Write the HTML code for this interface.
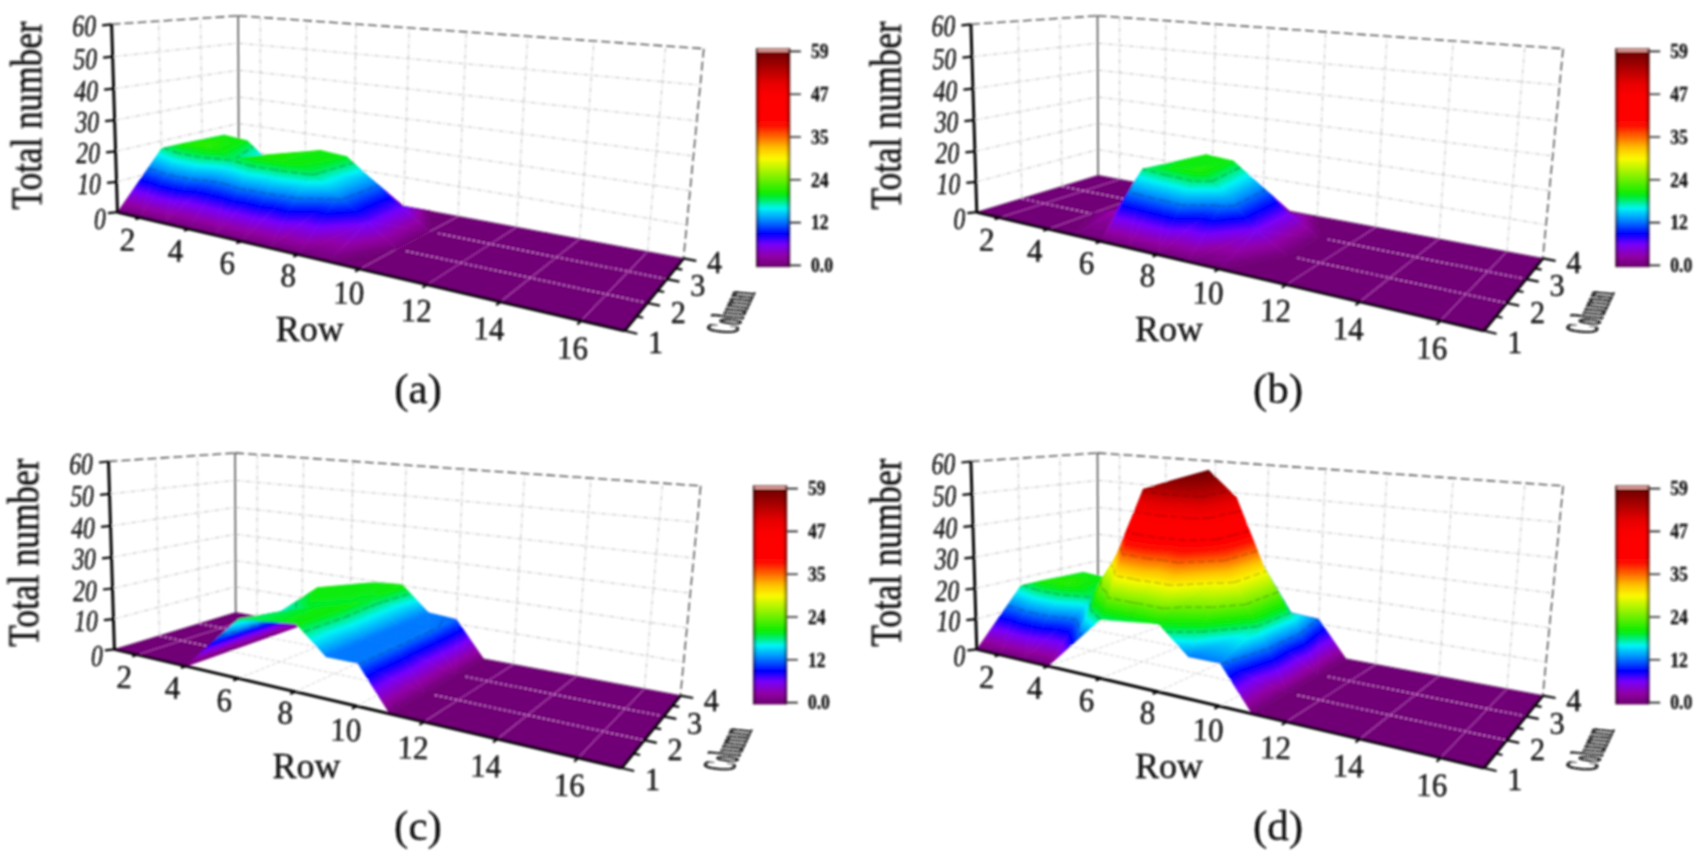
<!DOCTYPE html><html><head><meta charset="utf-8"><title>Figure</title><style>html,body{margin:0;padding:0;background:#fff}svg{display:block}.k{fill:none;stroke:#10200c;stroke-opacity:.32;stroke-width:1.2;stroke-dasharray:7 3}</style></head><body>
<svg width="1704" height="862" viewBox="0 0 1704 862">
<defs><filter id="bl" x="0" y="0" width="1704" height="862" filterUnits="userSpaceOnUse"><feGaussianBlur stdDeviation="0.85"/></filter></defs>
<rect width="1704" height="862" fill="#fff"/>
<g filter="url(#bl)">
<g transform="translate(0,0)">
<path d="M116.5 181.9L238.7 149.6M238.7 149.6L686.8 224.8M115.6 151.3L238.6 123.5M238.6 123.5L690.1 190.7M114.6 120.2L238.5 97M238.5 97L693.4 156M113.6 88.7L238.4 70.2M238.4 70.2L696.8 120.8M112.6 56.7L238.3 43.2M238.3 43.2L700.3 85.1M260.1 179.4L260.3 17.3M304.9 187.8L306.7 20.6M352.5 196.7L356.2 24.1M403.5 206.2L409.3 27.9M458 216.4L466.3 31.9M516.5 227.3L527.7 36.3M579.5 239L594 40.9M647.5 251.7L665.7 46M162.5 198.6L158.7 21.1M202.7 186.4L200.6 18.3" fill="none" stroke="#bdbdbd" stroke-width="1" stroke-dasharray="5 2 1.5 2"/>
<path d="M140.5 217.6L260.1 179.4M189.1 228.9L304.9 187.8M241.5 241.2L352.5 196.7M298.3 254.5L403.5 206.2M359.9 268.9L458 216.4M427.1 284.6L516.5 227.3M500.5 301.8L579.5 239M581.2 320.6L647.5 251.7M162.5 198.6L647.2 303M202.7 186.4L666.7 279.1" fill="none" stroke="#d0d0d0" stroke-width="1" stroke-dasharray="4 2"/>
<path d="M238.8 175.4L238.2 15.8" fill="none" stroke="#4a4a4a" stroke-width="1.5"/>
<path d="M117.5 212.2L238.8 175.4M238.8 175.4L683.5 258.4" fill="none" stroke="#999" stroke-width="1"/>
<path d="M111.6 24.3L238.2 15.8M238.2 15.8L703.8 48.7M703.8 48.7L683.5 258.4" fill="none" stroke="#3a3a3a" stroke-width="1.3" stroke-dasharray="9 4"/>
<path d="M429.4 231.7L458 216.4L430.3 211.2zM429.4 231.7L486.7 221.7L458 216.4zM459.4 237.7L516.5 227.3L486.7 221.7zM429.4 231.7L459.4 237.7L486.7 221.7zM490.6 243.9L547.4 233.1L516.5 227.3zM459.4 237.7L490.6 243.9L516.5 227.3zM523 250.4L579.5 239L547.4 233.1zM396.9 249.1L459.4 237.7L429.4 231.7zM490.6 243.9L523 250.4L547.4 233.1zM556.7 257.1L612.8 245.3L579.5 239zM428.3 255.8L490.6 243.9L459.4 237.7zM523 250.4L556.7 257.1L579.5 239zM396.9 249.1L428.3 255.8L459.4 237.7zM591.8 264.2L647.5 251.7L612.8 245.3zM461 262.9L523 250.4L490.6 243.9zM556.7 257.1L591.8 264.2L612.8 245.3zM428.3 255.8L461 262.9L490.6 243.9zM628.5 271.5L683.5 258.4L647.5 251.7zM495.1 270.2L556.7 257.1L523 250.4zM591.8 264.2L628.5 271.5L647.5 251.7zM359.9 268.9L428.3 255.8L396.9 249.1zM461 262.9L495.1 270.2L523 250.4zM328.5 261.5L359.9 268.9L396.9 249.1zM530.6 277.8L591.8 264.2L556.7 257.1zM628.5 271.5L666.7 279.1L683.5 258.4zM392.8 276.6L461 262.9L428.3 255.8zM495.1 270.2L530.6 277.8L556.7 257.1zM359.9 268.9L392.8 276.6L428.3 255.8zM567.8 285.8L628.5 271.5L591.8 264.2zM427.1 284.6L495.1 270.2L461 262.9zM530.6 277.8L567.8 285.8L591.8 264.2zM392.8 276.6L427.1 284.6L461 262.9zM606.6 294.2L666.7 279.1L628.5 271.5zM462.9 293L530.6 277.8L495.1 270.2zM567.8 285.8L606.6 294.2L628.5 271.5zM427.1 284.6L462.9 293L495.1 270.2zM500.5 301.8L567.8 285.8L530.6 277.8zM606.6 294.2L647.2 303L666.7 279.1zM462.9 293L500.5 301.8L530.6 277.8zM539.9 311L606.6 294.2L567.8 285.8zM500.5 301.8L539.9 311L567.8 285.8zM581.2 320.6L647.2 303L606.6 294.2zM539.9 311L581.2 320.6L606.6 294.2zM581.2 320.6L624.6 330.8L647.2 303z" fill="#710077" stroke="#710077" stroke-width="0.7"/>
<path d="M359.9 268.9L396.9 249.1M396.9 249.1L429.4 231.7M429.4 231.7L458 216.4M427.1 284.6L461 262.9M461 262.9L490.6 243.9M490.6 243.9L516.5 227.3M500.5 301.8L530.6 277.8M530.6 277.8L556.7 257.1M556.7 257.1L579.5 239M581.2 320.6L606.6 294.2M606.6 294.2L628.5 271.5M628.5 271.5L647.5 251.7" fill="none" stroke="#b44db4" stroke-opacity="0.9" stroke-width="1.1"/>
<path d="M406.2 251.1L647.2 303M438.2 233.5L666.7 279.1" fill="none" stroke="#e48de4" stroke-width="1.25" stroke-dasharray="2.6 2.4"/>
<defs><linearGradient id="g1" gradientUnits="userSpaceOnUse" x1="260.1" y1="179.4" x2="262.8" y2="165.1"><stop offset="0" stop-color="#710077"/><stop offset="0.208" stop-color="#9200a5"/><stop offset="0.483" stop-color="#7800fa"/><stop offset="0.725" stop-color="#0000ff"/><stop offset="1" stop-color="#0078ff"/></linearGradient><linearGradient id="g2" gradientUnits="userSpaceOnUse" x1="282.1" y1="183.5" x2="288.7" y2="148.7"><stop offset="0" stop-color="#710077"/><stop offset="0.13" stop-color="#9200a5"/><stop offset="0.301" stop-color="#7800fa"/><stop offset="0.451" stop-color="#0000ff"/><stop offset="0.658" stop-color="#0091ff"/><stop offset="0.819" stop-color="#00f5f5"/><stop offset="0.907" stop-color="#00ee82"/><stop offset="1" stop-color="#07ec19"/></linearGradient><linearGradient id="g3" gradientUnits="userSpaceOnUse" x1="260.1" y1="179.4" x2="259.1" y2="134.5"><stop offset="0" stop-color="#710077"/><stop offset="0.125" stop-color="#9200a5"/><stop offset="0.29" stop-color="#7800fa"/><stop offset="0.435" stop-color="#0000ff"/><stop offset="0.635" stop-color="#0091ff"/><stop offset="0.79" stop-color="#00f5f5"/><stop offset="0.875" stop-color="#00ee82"/><stop offset="0.98" stop-color="#08ec08"/><stop offset="1" stop-color="#12ec07"/></linearGradient><linearGradient id="g4" gradientUnits="userSpaceOnUse" x1="304.9" y1="187.8" x2="308.2" y2="169.9"><stop offset="0" stop-color="#710077"/><stop offset="0.192" stop-color="#9200a5"/><stop offset="0.446" stop-color="#7800fa"/><stop offset="0.669" stop-color="#0000ff"/><stop offset="0.977" stop-color="#0091ff"/><stop offset="1" stop-color="#009bfe"/></linearGradient><linearGradient id="g5" gradientUnits="userSpaceOnUse" x1="260.1" y1="179.4" x2="267" y2="143.4"><stop offset="0" stop-color="#710077"/><stop offset="0.125" stop-color="#9200a5"/><stop offset="0.29" stop-color="#7800fa"/><stop offset="0.435" stop-color="#0000ff"/><stop offset="0.635" stop-color="#0091ff"/><stop offset="0.79" stop-color="#00f5f5"/><stop offset="0.875" stop-color="#00ee82"/><stop offset="0.98" stop-color="#08ec08"/><stop offset="1" stop-color="#12ec07"/></linearGradient><linearGradient id="g6" gradientUnits="userSpaceOnUse" x1="328.3" y1="192.2" x2="330.1" y2="182.4"><stop offset="0" stop-color="#710077"/><stop offset="0.25" stop-color="#9200a5"/><stop offset="0.58" stop-color="#7800fa"/><stop offset="0.87" stop-color="#0000ff"/><stop offset="1" stop-color="#002fff"/></linearGradient><linearGradient id="g7" gradientUnits="userSpaceOnUse" x1="282.1" y1="183.5" x2="291.1" y2="170.1"><stop offset="0" stop-color="#710077"/><stop offset="0.13" stop-color="#9200a5"/><stop offset="0.301" stop-color="#7800fa"/><stop offset="0.451" stop-color="#0000ff"/><stop offset="0.658" stop-color="#0091ff"/><stop offset="0.819" stop-color="#00f5f5"/><stop offset="0.907" stop-color="#00ee82"/><stop offset="1" stop-color="#07ec19"/></linearGradient><linearGradient id="g8" gradientUnits="userSpaceOnUse" x1="202.3" y1="153.8" x2="200.2" y2="138.4"><stop offset="0" stop-color="#0078ff"/><stop offset="0.087" stop-color="#0091ff"/><stop offset="0.475" stop-color="#00f5f5"/><stop offset="0.688" stop-color="#00ee82"/><stop offset="0.95" stop-color="#08ec08"/><stop offset="1" stop-color="#12ec07"/></linearGradient><linearGradient id="g9" gradientUnits="userSpaceOnUse" x1="352.5" y1="196.7" x2="354.4" y2="186.9"><stop offset="0" stop-color="#710077"/><stop offset="0.25" stop-color="#9200a5"/><stop offset="0.58" stop-color="#7800fa"/><stop offset="0.87" stop-color="#0000ff"/><stop offset="1" stop-color="#002fff"/></linearGradient><linearGradient id="g10" gradientUnits="userSpaceOnUse" x1="304.9" y1="187.8" x2="308.5" y2="179.5"><stop offset="0" stop-color="#710077"/><stop offset="0.192" stop-color="#9200a5"/><stop offset="0.446" stop-color="#7800fa"/><stop offset="0.669" stop-color="#0000ff"/><stop offset="0.977" stop-color="#0091ff"/><stop offset="1" stop-color="#009bfe"/></linearGradient><linearGradient id="g11" gradientUnits="userSpaceOnUse" x1="247.1" y1="140.9" x2="221.9" y2="162.6"><stop offset="0" stop-color="#07ec19"/><stop offset="0.176" stop-color="#08ec08"/><stop offset="1" stop-color="#2ced05"/></linearGradient><linearGradient id="g12" gradientUnits="userSpaceOnUse" x1="161.4" y1="148.8" x2="161.2" y2="148"><stop offset="0" stop-color="#00ef90"/><stop offset="0.062" stop-color="#00ee82"/><stop offset="0.719" stop-color="#08ec08"/><stop offset="1" stop-color="#1fed06"/></linearGradient><linearGradient id="g13" gradientUnits="userSpaceOnUse" x1="377.6" y1="201.3" x2="384.6" y2="164"><stop offset="0" stop-color="#710077"/><stop offset="0.13" stop-color="#9200a5"/><stop offset="0.301" stop-color="#7800fa"/><stop offset="0.451" stop-color="#0000ff"/><stop offset="0.658" stop-color="#0091ff"/><stop offset="0.819" stop-color="#00f5f5"/><stop offset="0.907" stop-color="#00ee82"/><stop offset="1" stop-color="#07ec19"/></linearGradient><linearGradient id="g14" gradientUnits="userSpaceOnUse" x1="352.5" y1="196.7" x2="350" y2="149"><stop offset="0" stop-color="#710077"/><stop offset="0.125" stop-color="#9200a5"/><stop offset="0.29" stop-color="#7800fa"/><stop offset="0.435" stop-color="#0000ff"/><stop offset="0.635" stop-color="#0091ff"/><stop offset="0.79" stop-color="#00f5f5"/><stop offset="0.875" stop-color="#00ee82"/><stop offset="0.98" stop-color="#08ec08"/><stop offset="1" stop-color="#12ec07"/></linearGradient><linearGradient id="g15" gradientUnits="userSpaceOnUse" x1="224.2" y1="135.3" x2="225" y2="144.3"><stop offset="0" stop-color="#12ec07"/><stop offset="1" stop-color="#2ced05"/></linearGradient><linearGradient id="g16" gradientUnits="userSpaceOnUse" x1="270.7" y1="162.9" x2="252.9" y2="136.9"><stop offset="0" stop-color="#009bfe"/><stop offset="0.444" stop-color="#00f5f5"/><stop offset="0.714" stop-color="#00ee82"/><stop offset="1" stop-color="#07ec19"/></linearGradient><linearGradient id="g17" gradientUnits="userSpaceOnUse" x1="403.5" y1="206.2" x2="407" y2="187.3"><stop offset="0" stop-color="#710077"/><stop offset="0.194" stop-color="#9200a5"/><stop offset="0.45" stop-color="#7800fa"/><stop offset="0.674" stop-color="#0000ff"/><stop offset="0.984" stop-color="#0091ff"/><stop offset="1" stop-color="#0097fe"/></linearGradient><linearGradient id="g18" gradientUnits="userSpaceOnUse" x1="352.5" y1="196.7" x2="359.8" y2="157.9"><stop offset="0" stop-color="#710077"/><stop offset="0.125" stop-color="#9200a5"/><stop offset="0.29" stop-color="#7800fa"/><stop offset="0.435" stop-color="#0000ff"/><stop offset="0.635" stop-color="#0091ff"/><stop offset="0.79" stop-color="#00f5f5"/><stop offset="0.875" stop-color="#00ee82"/><stop offset="0.98" stop-color="#08ec08"/><stop offset="1" stop-color="#12ec07"/></linearGradient><linearGradient id="g19" gradientUnits="userSpaceOnUse" x1="231.9" y1="159.2" x2="222" y2="138.8"><stop offset="0" stop-color="#02ee65"/><stop offset="0.533" stop-color="#08ec08"/><stop offset="1" stop-color="#2ced05"/></linearGradient><linearGradient id="g20" gradientUnits="userSpaceOnUse" x1="295" y1="175.9" x2="294.9" y2="176.1"><stop offset="0" stop-color="#002fff"/><stop offset="0.257" stop-color="#0091ff"/><stop offset="0.552" stop-color="#00f5f5"/><stop offset="0.714" stop-color="#00ee82"/><stop offset="0.914" stop-color="#08ec08"/><stop offset="1" stop-color="#1fed06"/></linearGradient><linearGradient id="g21" gradientUnits="userSpaceOnUse" x1="430.3" y1="211.2" x2="430.2" y2="211.6"><stop offset="0" stop-color="#710077"/><stop offset="0.391" stop-color="#9200a5"/><stop offset="0.906" stop-color="#7800fa"/><stop offset="1" stop-color="#5f00fb"/></linearGradient><linearGradient id="g22" gradientUnits="userSpaceOnUse" x1="140.5" y1="217.6" x2="171.2" y2="138.4"><stop offset="0" stop-color="#710077"/><stop offset="0.122" stop-color="#9200a5"/><stop offset="0.283" stop-color="#7800fa"/><stop offset="0.424" stop-color="#0000ff"/><stop offset="0.62" stop-color="#0091ff"/><stop offset="0.771" stop-color="#00f5f5"/><stop offset="0.854" stop-color="#00ee82"/><stop offset="0.956" stop-color="#08ec08"/><stop offset="1" stop-color="#1fed06"/></linearGradient><linearGradient id="g23" gradientUnits="userSpaceOnUse" x1="377.6" y1="201.3" x2="389.2" y2="180.9"><stop offset="0" stop-color="#710077"/><stop offset="0.13" stop-color="#9200a5"/><stop offset="0.301" stop-color="#7800fa"/><stop offset="0.451" stop-color="#0000ff"/><stop offset="0.658" stop-color="#0091ff"/><stop offset="0.819" stop-color="#00f5f5"/><stop offset="0.907" stop-color="#00ee82"/><stop offset="1" stop-color="#07ec19"/></linearGradient><linearGradient id="g24" gradientUnits="userSpaceOnUse" x1="117.5" y1="212.2" x2="133.8" y2="142.4"><stop offset="0" stop-color="#710077"/><stop offset="0.145" stop-color="#9200a5"/><stop offset="0.335" stop-color="#7800fa"/><stop offset="0.503" stop-color="#0000ff"/><stop offset="0.734" stop-color="#0091ff"/><stop offset="0.913" stop-color="#00f5f5"/><stop offset="1" stop-color="#00ef90"/></linearGradient><linearGradient id="g25" gradientUnits="userSpaceOnUse" x1="295" y1="175.9" x2="292.7" y2="152.3"><stop offset="0" stop-color="#002fff"/><stop offset="0.257" stop-color="#0091ff"/><stop offset="0.552" stop-color="#00f5f5"/><stop offset="0.714" stop-color="#00ee82"/><stop offset="0.914" stop-color="#08ec08"/><stop offset="1" stop-color="#1fed06"/></linearGradient><linearGradient id="g26" gradientUnits="userSpaceOnUse" x1="270.7" y1="162.9" x2="270.4" y2="155.4"><stop offset="0" stop-color="#009bfe"/><stop offset="0.373" stop-color="#00f5f5"/><stop offset="0.6" stop-color="#00ee82"/><stop offset="0.88" stop-color="#08ec08"/><stop offset="1" stop-color="#1fed06"/></linearGradient><linearGradient id="g27" gradientUnits="userSpaceOnUse" x1="403.5" y1="206.2" x2="401.1" y2="208.6"><stop offset="0" stop-color="#710077"/><stop offset="0.194" stop-color="#9200a5"/><stop offset="0.45" stop-color="#7800fa"/><stop offset="0.674" stop-color="#0000ff"/><stop offset="0.984" stop-color="#0091ff"/><stop offset="1" stop-color="#0097fe"/></linearGradient><linearGradient id="g28" gradientUnits="userSpaceOnUse" x1="164.3" y1="223.1" x2="180.2" y2="140.6"><stop offset="0" stop-color="#710077"/><stop offset="0.119" stop-color="#9200a5"/><stop offset="0.276" stop-color="#7800fa"/><stop offset="0.414" stop-color="#0000ff"/><stop offset="0.605" stop-color="#0091ff"/><stop offset="0.752" stop-color="#00f5f5"/><stop offset="0.833" stop-color="#00ee82"/><stop offset="0.933" stop-color="#08ec08"/><stop offset="1" stop-color="#2ced05"/></linearGradient><linearGradient id="g29" gradientUnits="userSpaceOnUse" x1="140.5" y1="217.6" x2="159.2" y2="137.6"><stop offset="0" stop-color="#710077"/><stop offset="0.122" stop-color="#9200a5"/><stop offset="0.283" stop-color="#7800fa"/><stop offset="0.424" stop-color="#0000ff"/><stop offset="0.62" stop-color="#0091ff"/><stop offset="0.771" stop-color="#00f5f5"/><stop offset="0.854" stop-color="#00ee82"/><stop offset="0.956" stop-color="#08ec08"/><stop offset="1" stop-color="#1fed06"/></linearGradient><linearGradient id="g30" gradientUnits="userSpaceOnUse" x1="346.9" y1="156.9" x2="342.9" y2="143.9"><stop offset="0" stop-color="#07ec19"/><stop offset="0.429" stop-color="#08ec08"/><stop offset="1" stop-color="#12ec07"/></linearGradient><linearGradient id="g31" gradientUnits="userSpaceOnUse" x1="164.3" y1="223.1" x2="170.3" y2="143.1"><stop offset="0" stop-color="#710077"/><stop offset="0.119" stop-color="#9200a5"/><stop offset="0.276" stop-color="#7800fa"/><stop offset="0.414" stop-color="#0000ff"/><stop offset="0.605" stop-color="#0091ff"/><stop offset="0.752" stop-color="#00f5f5"/><stop offset="0.833" stop-color="#00ee82"/><stop offset="0.933" stop-color="#08ec08"/><stop offset="1" stop-color="#2ced05"/></linearGradient><linearGradient id="g32" gradientUnits="userSpaceOnUse" x1="429.4" y1="231.7" x2="400" y2="230.4"><stop offset="0" stop-color="#710077"/><stop offset="0.391" stop-color="#9200a5"/><stop offset="0.906" stop-color="#7800fa"/><stop offset="1" stop-color="#5f00fb"/></linearGradient><linearGradient id="g33" gradientUnits="userSpaceOnUse" x1="283.4" y1="161.9" x2="279.6" y2="149.1"><stop offset="0" stop-color="#12ec07"/><stop offset="1" stop-color="#1fed06"/></linearGradient><linearGradient id="g34" gradientUnits="userSpaceOnUse" x1="373.6" y1="181.1" x2="365.1" y2="151.7"><stop offset="0" stop-color="#0097fe"/><stop offset="0.453" stop-color="#00f5f5"/><stop offset="0.719" stop-color="#00ee82"/><stop offset="1" stop-color="#07ec19"/></linearGradient><linearGradient id="g35" gradientUnits="userSpaceOnUse" x1="164.3" y1="223.1" x2="182" y2="147.5"><stop offset="0" stop-color="#710077"/><stop offset="0.139" stop-color="#9200a5"/><stop offset="0.322" stop-color="#7800fa"/><stop offset="0.483" stop-color="#0000ff"/><stop offset="0.706" stop-color="#0091ff"/><stop offset="0.878" stop-color="#00f5f5"/><stop offset="0.972" stop-color="#00ee82"/><stop offset="1" stop-color="#02ee65"/></linearGradient><linearGradient id="g36" gradientUnits="userSpaceOnUse" x1="214.8" y1="234.9" x2="241.1" y2="150.8"><stop offset="0" stop-color="#710077"/><stop offset="0.122" stop-color="#9200a5"/><stop offset="0.283" stop-color="#7800fa"/><stop offset="0.424" stop-color="#0000ff"/><stop offset="0.62" stop-color="#0091ff"/><stop offset="0.771" stop-color="#00f5f5"/><stop offset="0.854" stop-color="#00ee82"/><stop offset="0.956" stop-color="#08ec08"/><stop offset="1" stop-color="#1fed06"/></linearGradient><linearGradient id="g37" gradientUnits="userSpaceOnUse" x1="310.6" y1="171.4" x2="308" y2="157.3"><stop offset="0" stop-color="#04ed48"/><stop offset="0.733" stop-color="#08ec08"/><stop offset="1" stop-color="#12ec07"/></linearGradient><linearGradient id="g38" gradientUnits="userSpaceOnUse" x1="401.1" y1="206.2" x2="389.4" y2="175.1"><stop offset="0" stop-color="#5f00fb"/><stop offset="0.354" stop-color="#0000ff"/><stop offset="0.969" stop-color="#0091ff"/><stop offset="1" stop-color="#0097fe"/></linearGradient><linearGradient id="g39" gradientUnits="userSpaceOnUse" x1="189.1" y1="228.9" x2="206.8" y2="153.3"><stop offset="0" stop-color="#710077"/><stop offset="0.139" stop-color="#9200a5"/><stop offset="0.322" stop-color="#7800fa"/><stop offset="0.483" stop-color="#0000ff"/><stop offset="0.706" stop-color="#0091ff"/><stop offset="0.878" stop-color="#00f5f5"/><stop offset="0.972" stop-color="#00ee82"/><stop offset="1" stop-color="#02ee65"/></linearGradient><linearGradient id="g40" gradientUnits="userSpaceOnUse" x1="214.8" y1="234.9" x2="227.4" y2="151.3"><stop offset="0" stop-color="#710077"/><stop offset="0.122" stop-color="#9200a5"/><stop offset="0.283" stop-color="#7800fa"/><stop offset="0.424" stop-color="#0000ff"/><stop offset="0.62" stop-color="#0091ff"/><stop offset="0.771" stop-color="#00f5f5"/><stop offset="0.854" stop-color="#00ee82"/><stop offset="0.956" stop-color="#08ec08"/><stop offset="1" stop-color="#1fed06"/></linearGradient><linearGradient id="g41" gradientUnits="userSpaceOnUse" x1="338.6" y1="195.3" x2="327.3" y2="165.2"><stop offset="0" stop-color="#0091ff"/><stop offset="0.534" stop-color="#00f5f5"/><stop offset="0.828" stop-color="#00ee82"/><stop offset="1" stop-color="#04ed48"/></linearGradient><linearGradient id="g42" gradientUnits="userSpaceOnUse" x1="429.4" y1="231.7" x2="415.1" y2="199.9"><stop offset="0" stop-color="#710077"/><stop offset="0.391" stop-color="#9200a5"/><stop offset="0.906" stop-color="#7800fa"/><stop offset="1" stop-color="#5f00fb"/></linearGradient><linearGradient id="g43" gradientUnits="userSpaceOnUse" x1="367.3" y1="221.9" x2="352.6" y2="189"><stop offset="0" stop-color="#6300fb"/><stop offset="0.375" stop-color="#0000ff"/><stop offset="1" stop-color="#0091ff"/></linearGradient><linearGradient id="g44" gradientUnits="userSpaceOnUse" x1="241.5" y1="241.2" x2="251.3" y2="158.1"><stop offset="0" stop-color="#710077"/><stop offset="0.125" stop-color="#9200a5"/><stop offset="0.29" stop-color="#7800fa"/><stop offset="0.435" stop-color="#0000ff"/><stop offset="0.635" stop-color="#0091ff"/><stop offset="0.79" stop-color="#00f5f5"/><stop offset="0.875" stop-color="#00ee82"/><stop offset="0.98" stop-color="#08ec08"/><stop offset="1" stop-color="#12ec07"/></linearGradient><linearGradient id="g45" gradientUnits="userSpaceOnUse" x1="214.8" y1="234.9" x2="234.6" y2="150.4"><stop offset="0" stop-color="#710077"/><stop offset="0.125" stop-color="#9200a5"/><stop offset="0.29" stop-color="#7800fa"/><stop offset="0.435" stop-color="#0000ff"/><stop offset="0.635" stop-color="#0091ff"/><stop offset="0.79" stop-color="#00f5f5"/><stop offset="0.875" stop-color="#00ee82"/><stop offset="0.98" stop-color="#08ec08"/><stop offset="1" stop-color="#12ec07"/></linearGradient><linearGradient id="g46" gradientUnits="userSpaceOnUse" x1="396.9" y1="249.1" x2="379.1" y2="215.7"><stop offset="0" stop-color="#710077"/><stop offset="0.397" stop-color="#9200a5"/><stop offset="0.921" stop-color="#7800fa"/><stop offset="1" stop-color="#6300fb"/></linearGradient><linearGradient id="g47" gradientUnits="userSpaceOnUse" x1="269.3" y1="247.7" x2="269.3" y2="171.4"><stop offset="0" stop-color="#710077"/><stop offset="0.135" stop-color="#9200a5"/><stop offset="0.314" stop-color="#7800fa"/><stop offset="0.47" stop-color="#0000ff"/><stop offset="0.686" stop-color="#0091ff"/><stop offset="0.854" stop-color="#00f5f5"/><stop offset="0.946" stop-color="#00ee82"/><stop offset="1" stop-color="#04ed48"/></linearGradient><linearGradient id="g48" gradientUnits="userSpaceOnUse" x1="241.5" y1="241.2" x2="260.6" y2="159.7"><stop offset="0" stop-color="#710077"/><stop offset="0.135" stop-color="#9200a5"/><stop offset="0.314" stop-color="#7800fa"/><stop offset="0.47" stop-color="#0000ff"/><stop offset="0.686" stop-color="#0091ff"/><stop offset="0.854" stop-color="#00f5f5"/><stop offset="0.946" stop-color="#00ee82"/><stop offset="1" stop-color="#04ed48"/></linearGradient><linearGradient id="g49" gradientUnits="userSpaceOnUse" x1="298.3" y1="254.5" x2="294.6" y2="198.2"><stop offset="0" stop-color="#710077"/><stop offset="0.197" stop-color="#9200a5"/><stop offset="0.457" stop-color="#7800fa"/><stop offset="0.685" stop-color="#0000ff"/><stop offset="1" stop-color="#0091ff"/></linearGradient><linearGradient id="g50" gradientUnits="userSpaceOnUse" x1="269.3" y1="247.7" x2="284.5" y2="182.7"><stop offset="0" stop-color="#710077"/><stop offset="0.197" stop-color="#9200a5"/><stop offset="0.457" stop-color="#7800fa"/><stop offset="0.685" stop-color="#0000ff"/><stop offset="1" stop-color="#0091ff"/></linearGradient><linearGradient id="g51" gradientUnits="userSpaceOnUse" x1="328.5" y1="261.5" x2="322.7" y2="230.1"><stop offset="0" stop-color="#710077"/><stop offset="0.397" stop-color="#9200a5"/><stop offset="0.921" stop-color="#7800fa"/><stop offset="1" stop-color="#6300fb"/></linearGradient><linearGradient id="g52" gradientUnits="userSpaceOnUse" x1="298.3" y1="254.5" x2="309.1" y2="208.3"><stop offset="0" stop-color="#710077"/><stop offset="0.397" stop-color="#9200a5"/><stop offset="0.921" stop-color="#7800fa"/><stop offset="1" stop-color="#6300fb"/></linearGradient></defs>
<g stroke-width="0.7" stroke-linejoin="round"><path d="M202.3 153.8L260.1 179.4L238.8 175.4z" fill="url(#g1)" stroke="url(#g1)"/><path class="k" d="M203.3 154.2L202.9 154.1"/><path d="M247.1 140.9L282.1 183.5L260.1 179.4z" fill="url(#g2)" stroke="url(#g2)"/><path class="k" d="M261.3 158.1L252.4 156.6M250.2 144.7L248.2 144.3"/><path d="M202.3 153.8L224.2 135.3L260.1 179.4z" fill="url(#g3)" stroke="url(#g3)"/><path class="k" d="M239.5 154.1L203.3 154.2M217.8 140.7L228.5 140.6"/><path d="M270.7 162.9L304.9 187.8L282.1 183.5z" fill="url(#g4)" stroke="url(#g4)"/><path class="k" d="M274 165.3L271.8 164.9"/><path d="M224.2 135.3L247.1 140.9L260.1 179.4z" fill="url(#g5)" stroke="url(#g5)"/><path class="k" d="M252.4 156.6L239.5 154.1M248.2 144.3L228.5 140.6"/><path d="M295 175.9L328.3 192.2L304.9 187.8z" fill="url(#g6)" stroke="url(#g6)"/><path d="M247.1 140.9L270.7 162.9L282.1 183.5z" fill="url(#g7)" stroke="url(#g7)"/><path class="k" d="M271.8 164.9L261.3 158.1M253 146.4L250.2 144.7"/><path d="M161.4 148.8L224.2 135.3L202.3 153.8z" fill="url(#g8)" stroke="url(#g8)"/><path class="k" d="M171 146.7L217.8 140.7"/><path d="M295 175.9L352.5 196.7L328.3 192.2z" fill="url(#g9)" stroke="url(#g9)"/><path d="M270.7 162.9L295 175.9L304.9 187.8z" fill="url(#g10)" stroke="url(#g10)"/><path class="k" d="M280.3 168L274 165.3"/><path d="M207.5 145.9L247.1 140.9L224.2 135.3z" fill="url(#g11)" stroke="url(#g11)"/><path d="M161.4 148.8L183.9 143.4L224.2 135.3z" fill="url(#g12)" stroke="url(#g12)"/><path class="k" d="M164.2 148.1L171 146.7"/><path d="M346.9 156.9L377.6 201.3L352.5 196.7z" fill="url(#g13)" stroke="url(#g13)"/><path class="k" d="M359.3 174.9L349.2 173.2M349.6 160.9L347.4 160.5"/><path d="M295 175.9L320.6 150.6L352.5 196.7z" fill="url(#g14)" stroke="url(#g14)"/><path class="k" d="M299.5 171.4L334.3 170.3M314.6 156.5L324.5 156.2"/><path d="M183.9 143.4L207.5 145.9L224.2 135.3z" fill="url(#g15)" stroke="url(#g15)"/><path d="M231.9 159.2L270.7 162.9L247.1 140.9z" fill="url(#g16)" stroke="url(#g16)"/><path class="k" d="M234.4 159.4L253 146.4"/><path d="M373.6 181.1L403.5 206.2L377.6 201.3z" fill="url(#g17)" stroke="url(#g17)"/><path class="k" d="M376.3 183.3L374 182.9"/><path d="M320.6 150.6L346.9 156.9L352.5 196.7z" fill="url(#g18)" stroke="url(#g18)"/><path class="k" d="M349.2 173.2L334.3 170.3M347.4 160.5L324.5 156.2"/><path d="M207.5 145.9L231.9 159.2L247.1 140.9z" fill="url(#g19)" stroke="url(#g19)"/><path d="M257.2 155.8L295 175.9L270.7 162.9z" fill="url(#g20)" stroke="url(#g20)"/><path class="k" d="M288.9 172.6L280.3 168M267.8 161.4L262.5 158.6"/><path d="M401.1 206.2L430.3 211.2L403.5 206.2z" fill="url(#g21)" stroke="url(#g21)"/><path d="M140.5 217.6L183.9 143.4L161.4 148.8z" fill="url(#g22)" stroke="url(#g22)"/><path class="k" d="M166 174L155 169.7M178.2 153.1L164.2 148.1"/><path d="M346.9 156.9L373.6 181.1L377.6 201.3z" fill="url(#g23)" stroke="url(#g23)"/><path class="k" d="M374 182.9L359.3 174.9M353.5 162.9L349.6 160.9"/><path d="M117.5 212.2L140.5 217.6L161.4 148.8z" fill="url(#g24)" stroke="url(#g24)"/><path class="k" d="M155 169.7L147.9 168.3"/><path d="M257.2 155.8L320.6 150.6L295 175.9z" fill="url(#g25)" stroke="url(#g25)"/><path class="k" d="M299.5 171.4L288.9 172.6M314.6 156.5L267.8 161.4"/><path d="M231.9 159.2L257.2 155.8L270.7 162.9z" fill="url(#g26)" stroke="url(#g26)"/><path class="k" d="M262.5 158.6L234.4 159.4"/><path d="M373.6 181.1L401.1 206.2L403.5 206.2z" fill="url(#g27)" stroke="url(#g27)"/><path class="k" d="M378.2 185.3L376.3 183.3"/><path d="M164.3 223.1L207.5 145.9L183.9 143.4z" fill="url(#g28)" stroke="url(#g28)"/><path class="k" d="M189.1 178.8L175.9 176M201 157.5L181.4 153.7"/><path d="M140.5 217.6L164.3 223.1L183.9 143.4z" fill="url(#g29)" stroke="url(#g29)"/><path class="k" d="M175.9 176L166 174M181.4 153.7L178.2 153.1"/><path d="M283.4 161.9L346.9 156.9L320.6 150.6z" fill="url(#g30)" stroke="url(#g30)"/><path d="M164.3 223.1L231.9 159.2L207.5 145.9z" fill="url(#g31)" stroke="url(#g31)"/><path class="k" d="M209.1 180.8L189.1 178.8M230.8 160.2L201 157.5"/><path d="M401.1 206.2L429.4 231.7L430.3 211.2z" fill="url(#g32)" stroke="url(#g32)"/><path d="M257.2 155.8L283.4 161.9L320.6 150.6z" fill="url(#g33)" stroke="url(#g33)"/><path d="M310.6 171.4L373.6 181.1L346.9 156.9z" fill="url(#g34)" stroke="url(#g34)"/><path class="k" d="M320 172.8L353.5 162.9"/><path d="M164.3 223.1L189.1 228.9L231.9 159.2z" fill="url(#g35)" stroke="url(#g35)"/><path class="k" d="M217.6 182.4L209.1 180.8M231.3 160.3L230.8 160.2"/><path d="M214.8 234.9L257.2 155.8L231.9 159.2z" fill="url(#g36)" stroke="url(#g36)"/><path class="k" d="M239.7 188.5L226.3 184.1M251.6 166.2L231.7 160.4"/><path d="M283.4 161.9L310.6 171.4L346.9 156.9z" fill="url(#g37)" stroke="url(#g37)"/><path d="M338.6 195.3L401.1 206.2L373.6 181.1z" fill="url(#g38)" stroke="url(#g38)"/><path class="k" d="M347.9 196.9L378.2 185.3"/><path d="M189.1 228.9L214.8 234.9L231.9 159.2z" fill="url(#g39)" stroke="url(#g39)"/><path class="k" d="M226.3 184.1L217.6 182.4M231.7 160.4L231.3 160.3"/><path d="M214.8 234.9L283.4 161.9L257.2 155.8z" fill="url(#g40)" stroke="url(#g40)"/><path class="k" d="M255.8 191.3L239.7 188.5M275.7 170.1L251.6 166.2"/><path d="M310.6 171.4L338.6 195.3L373.6 181.1z" fill="url(#g41)" stroke="url(#g41)"/><path class="k" d="M314.4 174.6L320 172.8"/><path d="M367.3 221.9L429.4 231.7L401.1 206.2z" fill="url(#g42)" stroke="url(#g42)"/><path d="M338.6 195.3L367.3 221.9L401.1 206.2z" fill="url(#g43)" stroke="url(#g43)"/><path class="k" d="M342.6 199L347.9 196.9"/><path d="M241.5 241.2L310.6 171.4L283.4 161.9z" fill="url(#g44)" stroke="url(#g44)"/><path class="k" d="M286.1 196.2L266.8 193.5M307.7 174.3L278.8 170.6"/><path d="M214.8 234.9L241.5 241.2L283.4 161.9z" fill="url(#g45)" stroke="url(#g45)"/><path class="k" d="M266.8 193.5L255.8 191.3M278.8 170.6L275.7 170.1"/><path d="M367.3 221.9L396.9 249.1L429.4 231.7z" fill="url(#g46)" stroke="url(#g46)"/><path d="M269.3 247.7L338.6 195.3L310.6 171.4z" fill="url(#g47)" stroke="url(#g47)"/><path class="k" d="M333.8 198.9L296.2 198.1M314.4 174.6L308.9 174.5"/><path d="M241.5 241.2L269.3 247.7L310.6 171.4z" fill="url(#g48)" stroke="url(#g48)"/><path class="k" d="M296.2 198.1L286.1 196.2M308.9 174.5L307.7 174.3"/><path d="M298.3 254.5L367.3 221.9L338.6 195.3z" fill="url(#g49)" stroke="url(#g49)"/><path class="k" d="M342.6 199L335.9 199.3"/><path d="M269.3 247.7L298.3 254.5L338.6 195.3z" fill="url(#g50)" stroke="url(#g50)"/><path class="k" d="M335.9 199.3L333.8 198.9"/><path d="M328.5 261.5L396.9 249.1L367.3 221.9z" fill="url(#g51)" stroke="url(#g51)"/><path d="M298.3 254.5L328.5 261.5L367.3 221.9z" fill="url(#g52)" stroke="url(#g52)"/></g>
<path d="M117.5 212.2L111.6 24.3M117.5 212.2L624.6 330.8M624.6 330.8L683.5 258.4" fill="none" stroke="#000" stroke-width="3" stroke-linejoin="round"/>
<path d="M117.5 212.2l-9.5 1M116.5 181.9l-9.5 1M115.6 151.3l-9.5 1M114.6 120.2l-9.5 1M113.6 88.7l-9.5 1M112.6 56.7l-9.5 1M111.6 24.3l-9.5 1M140.5 217.6l-5.2 1.7M189.1 228.9l-5.2 1.8M241.5 241.2l-5.1 2M298.3 254.5l-5 2.3M359.9 268.9l-4.8 2.6M427.1 284.6l-4.6 3M500.5 301.8l-4.3 3.4M581.2 320.6l-3.8 4M624.6 330.8l12.7 3M636.4 316.3l6.8 1.5M647.2 303l12.7 2.7M657.3 290.6l6.9 1.4M666.7 279.1l12.7 2.5M675.4 268.4l6.9 1.3M683.5 258.4l12.8 2.4" fill="none" stroke="#000" stroke-width="2.2" stroke-linecap="butt"/>
<g font-family="'Liberation Serif',serif" fill="#0a0a0a" stroke="#0a0a0a" stroke-width="0.3"><text transform="translate(105,229.2) skewX(-7) scale(0.78,1)" text-anchor="end" font-size="30.5">0</text><text transform="translate(100,193.9) skewX(-7) scale(0.78,1)" text-anchor="end" font-size="30.5">10</text><text transform="translate(99.1,163.3) skewX(-7) scale(0.78,1)" text-anchor="end" font-size="30.5">20</text><text transform="translate(98.1,132.2) skewX(-7) scale(0.78,1)" text-anchor="end" font-size="30.5">30</text><text transform="translate(97.1,100.7) skewX(-7) scale(0.78,1)" text-anchor="end" font-size="30.5">40</text><text transform="translate(96.1,68.7) skewX(-7) scale(0.78,1)" text-anchor="end" font-size="30.5">50</text><text transform="translate(95.1,36.3) skewX(-7) scale(0.78,1)" text-anchor="end" font-size="30.5">60</text><text transform="translate(127.2,250.8) rotate(1.5) scale(0.94,1)" text-anchor="middle" font-size="33">2</text><text transform="translate(175.3,261.6) rotate(1.5) scale(0.94,1)" text-anchor="middle" font-size="33">4</text><text transform="translate(227,273.9) rotate(1.5) scale(0.94,1)" text-anchor="middle" font-size="33">6</text><text transform="translate(288,286.5) rotate(1.5) scale(0.94,1)" text-anchor="middle" font-size="33">8</text><text transform="translate(348.5,303.8) rotate(1.5) scale(0.94,1)" text-anchor="middle" font-size="33">10</text><text transform="translate(415.9,321.5) rotate(1.5) scale(0.94,1)" text-anchor="middle" font-size="33">12</text><text transform="translate(488.7,339.7) rotate(1.5) scale(0.94,1)" text-anchor="middle" font-size="33">14</text><text transform="translate(572.2,358.9) rotate(1.5) scale(0.94,1)" text-anchor="middle" font-size="33">16</text><text transform="translate(655.6,352.7) scale(0.93,1)" text-anchor="middle" font-size="32.5">1</text><text transform="translate(678.2,322.5) scale(0.93,1)" text-anchor="middle" font-size="32.5">2</text><text transform="translate(697.7,296.4) scale(0.93,1)" text-anchor="middle" font-size="32.5">3</text><text transform="translate(714.5,273.4) scale(0.93,1)" text-anchor="middle" font-size="32.5">4</text><text x="309.7" y="341" text-anchor="middle" font-size="36">Row</text><text transform="translate(41.5,115.5) rotate(-90) scale(0.8,1)" text-anchor="middle" font-size="44" stroke="#141414" stroke-width="0.6">Total number</text><text x="418" y="402.8" text-anchor="middle" font-size="43">(a)</text><text transform="matrix(0.1227,-0.2607,0.995,0.096,735.9,334.7)" font-weight="bold" font-size="47">Column</text></g>
<defs><linearGradient id="g53" x1="0" y1="0" x2="0" y2="1"><stop offset="0.000" stop-color="#6c0000"/><stop offset="0.018" stop-color="#700000"/><stop offset="0.089" stop-color="#ac0000"/><stop offset="0.154" stop-color="#e40000"/><stop offset="0.212" stop-color="#fc0000"/><stop offset="0.312" stop-color="#ff0000"/><stop offset="0.350" stop-color="#ff0c00"/><stop offset="0.402" stop-color="#ff6400"/><stop offset="0.453" stop-color="#ffbe00"/><stop offset="0.505" stop-color="#fafa00"/><stop offset="0.594" stop-color="#78f000"/><stop offset="0.667" stop-color="#08ec08"/><stop offset="0.702" stop-color="#00ee82"/><stop offset="0.731" stop-color="#00f5f5"/><stop offset="0.782" stop-color="#0091ff"/><stop offset="0.849" stop-color="#0000ff"/><stop offset="0.897" stop-color="#7800fa"/><stop offset="0.952" stop-color="#9200a5"/><stop offset="0.993" stop-color="#710077"/><stop offset="1.000" stop-color="#710077"/></linearGradient><linearGradient id="g53b" x1="0" y1="0" x2="1" y2="0"><stop offset="0" stop-color="#000" stop-opacity="0.45"/><stop offset="0.12" stop-color="#000" stop-opacity="0"/><stop offset="0.88" stop-color="#000" stop-opacity="0"/><stop offset="1" stop-color="#000" stop-opacity="0.45"/></linearGradient></defs>
<rect x="756.4" y="48.6" width="33.5" height="218.3" fill="url(#g53)"/>
<rect x="756.4" y="48.6" width="33.5" height="218.3" fill="url(#g53b)"/>
<rect x="757.9" y="49.2" width="30.5" height="2.6" fill="#e9a9a0"/>
<rect x="756.4" y="48.6" width="33.5" height="218.3" fill="none" stroke="#3a1a1a" stroke-opacity="0.6" stroke-width="1"/>
<path d="M789.9 51.4h11M789.9 94.2h11M789.9 137h11M789.9 179.8h11M789.9 222.6h11M789.9 265.4h11" stroke="#222" stroke-width="1.6" fill="none"/>
<g font-family="'Liberation Serif',serif" fill="#111" stroke="#111" stroke-width="0.35"><text transform="translate(811,58.1) scale(0.88,1)" font-size="20" font-weight="bold">59</text><text transform="translate(811,100.9) scale(0.88,1)" font-size="20" font-weight="bold">47</text><text transform="translate(811,143.7) scale(0.88,1)" font-size="20" font-weight="bold">35</text><text transform="translate(811,186.5) scale(0.88,1)" font-size="20" font-weight="bold">24</text><text transform="translate(811,229.3) scale(0.88,1)" font-size="20" font-weight="bold">12</text><text transform="translate(811,272.1) scale(0.88,1)" font-size="20" font-weight="bold">0.0</text></g>
</g>
<g transform="translate(859.3,0)">
<path d="M116.5 181.9L238.7 149.6M238.7 149.6L686.8 224.8M115.6 151.3L238.6 123.5M238.6 123.5L690.1 190.7M114.6 120.2L238.5 97M238.5 97L693.4 156M113.6 88.7L238.4 70.2M238.4 70.2L696.8 120.8M112.6 56.7L238.3 43.2M238.3 43.2L700.3 85.1M260.1 179.4L260.3 17.3M304.9 187.8L306.7 20.6M352.5 196.7L356.2 24.1M403.5 206.2L409.3 27.9M458 216.4L466.3 31.9M516.5 227.3L527.7 36.3M579.5 239L594 40.9M647.5 251.7L665.7 46M162.5 198.6L158.7 21.1M202.7 186.4L200.6 18.3" fill="none" stroke="#bdbdbd" stroke-width="1" stroke-dasharray="5 2 1.5 2"/>
<path d="M140.5 217.6L260.1 179.4M189.1 228.9L304.9 187.8M241.5 241.2L352.5 196.7M298.3 254.5L403.5 206.2M359.9 268.9L458 216.4M427.1 284.6L516.5 227.3M500.5 301.8L579.5 239M581.2 320.6L647.5 251.7M162.5 198.6L647.2 303M202.7 186.4L666.7 279.1" fill="none" stroke="#d0d0d0" stroke-width="1" stroke-dasharray="4 2"/>
<path d="M238.8 175.4L238.2 15.8" fill="none" stroke="#4a4a4a" stroke-width="1.5"/>
<path d="M117.5 212.2L238.8 175.4M238.8 175.4L683.5 258.4" fill="none" stroke="#999" stroke-width="1"/>
<path d="M111.6 24.3L238.2 15.8M238.2 15.8L703.8 48.7M703.8 48.7L683.5 258.4" fill="none" stroke="#3a3a3a" stroke-width="1.3" stroke-dasharray="9 4"/>
<path d="M202.7 186.4L260.1 179.4L238.8 175.4zM224.6 190.8L282.1 183.5L260.1 179.4zM202.7 186.4L224.6 190.8L260.1 179.4zM247.2 195.3L304.9 187.8L282.1 183.5zM224.6 190.8L247.2 195.3L282.1 183.5zM270.6 200L328.3 192.2L304.9 187.8zM162.5 198.6L224.6 190.8L202.7 186.4zM247.2 195.3L270.6 200L304.9 187.8zM294.8 204.8L352.5 196.7L328.3 192.2zM184.9 203.4L247.2 195.3L224.6 190.8zM270.6 200L294.8 204.8L328.3 192.2zM162.5 198.6L184.9 203.4L224.6 190.8zM208.2 208.4L270.6 200L247.2 195.3zM184.9 203.4L208.2 208.4L247.2 195.3zM232.2 213.6L294.8 204.8L270.6 200zM117.5 212.2L184.9 203.4L162.5 198.6zM208.2 208.4L232.2 213.6L270.6 200zM140.5 217.6L208.2 208.4L184.9 203.4zM117.5 212.2L140.5 217.6L184.9 203.4zM164.3 223.1L232.2 213.6L208.2 208.4zM140.5 217.6L164.3 223.1L208.2 208.4zM459.4 237.7L486.7 221.7L458 216.4zM459.4 237.7L516.5 227.3L486.7 221.7zM164.3 223.1L189.1 228.9L232.2 213.6zM189.1 228.9L214.8 234.9L232.2 213.6zM490.6 243.9L547.4 233.1L516.5 227.3zM459.4 237.7L490.6 243.9L516.5 227.3zM523 250.4L579.5 239L547.4 233.1zM490.6 243.9L523 250.4L547.4 233.1zM556.7 257.1L612.8 245.3L579.5 239zM428.3 255.8L490.6 243.9L459.4 237.7zM523 250.4L556.7 257.1L579.5 239zM591.8 264.2L647.5 251.7L612.8 245.3zM461 262.9L523 250.4L490.6 243.9zM556.7 257.1L591.8 264.2L612.8 245.3zM428.3 255.8L461 262.9L490.6 243.9zM628.5 271.5L683.5 258.4L647.5 251.7zM495.1 270.2L556.7 257.1L523 250.4zM591.8 264.2L628.5 271.5L647.5 251.7zM461 262.9L495.1 270.2L523 250.4zM530.6 277.8L591.8 264.2L556.7 257.1zM628.5 271.5L666.7 279.1L683.5 258.4zM392.8 276.6L461 262.9L428.3 255.8zM495.1 270.2L530.6 277.8L556.7 257.1zM359.9 268.9L392.8 276.6L428.3 255.8zM567.8 285.8L628.5 271.5L591.8 264.2zM427.1 284.6L495.1 270.2L461 262.9zM530.6 277.8L567.8 285.8L591.8 264.2zM392.8 276.6L427.1 284.6L461 262.9zM606.6 294.2L666.7 279.1L628.5 271.5zM462.9 293L530.6 277.8L495.1 270.2zM567.8 285.8L606.6 294.2L628.5 271.5zM427.1 284.6L462.9 293L495.1 270.2zM500.5 301.8L567.8 285.8L530.6 277.8zM606.6 294.2L647.2 303L666.7 279.1zM462.9 293L500.5 301.8L530.6 277.8zM539.9 311L606.6 294.2L567.8 285.8zM500.5 301.8L539.9 311L567.8 285.8zM581.2 320.6L647.2 303L606.6 294.2zM539.9 311L581.2 320.6L606.6 294.2zM581.2 320.6L624.6 330.8L647.2 303z" fill="#710077" stroke="#710077" stroke-width="0.7"/>
<path d="M140.5 217.6L184.9 203.4M184.9 203.4L224.6 190.8M224.6 190.8L260.1 179.4M189.1 228.9L232.2 213.6M232.2 213.6L270.6 200M270.6 200L304.9 187.8M427.1 284.6L461 262.9M461 262.9L490.6 243.9M490.6 243.9L516.5 227.3M500.5 301.8L530.6 277.8M530.6 277.8L556.7 257.1M556.7 257.1L579.5 239M581.2 320.6L606.6 294.2M606.6 294.2L628.5 271.5M628.5 271.5L647.5 251.7" fill="none" stroke="#b44db4" stroke-opacity="0.9" stroke-width="1.1"/>
<path d="M162.5 198.6L232.2 213.6M438 257.9L647.2 303M202.7 186.4L294.8 204.8M468.6 239.5L666.7 279.1" fill="none" stroke="#e48de4" stroke-width="1.25" stroke-dasharray="2.6 2.4"/>
<defs><linearGradient id="g54" gradientUnits="userSpaceOnUse" x1="377.6" y1="201.3" x2="376.2" y2="208.6"><stop offset="0" stop-color="#710077"/><stop offset="0.625" stop-color="#9200a5"/><stop offset="1" stop-color="#8600cc"/></linearGradient><linearGradient id="g55" gradientUnits="userSpaceOnUse" x1="294.8" y1="204.8" x2="294.3" y2="201.7"><stop offset="0" stop-color="#710077"/><stop offset="0.625" stop-color="#9200a5"/><stop offset="1" stop-color="#8600cc"/></linearGradient><linearGradient id="g56" gradientUnits="userSpaceOnUse" x1="403.5" y1="206.2" x2="410.6" y2="168.1"><stop offset="0" stop-color="#710077"/><stop offset="0.13" stop-color="#9200a5"/><stop offset="0.301" stop-color="#7800fa"/><stop offset="0.451" stop-color="#0000ff"/><stop offset="0.658" stop-color="#0091ff"/><stop offset="0.819" stop-color="#00f5f5"/><stop offset="0.907" stop-color="#00ee82"/><stop offset="1" stop-color="#07ec19"/></linearGradient><linearGradient id="g57" gradientUnits="userSpaceOnUse" x1="377.6" y1="201.3" x2="371.8" y2="151.9"><stop offset="0" stop-color="#710077"/><stop offset="0.125" stop-color="#9200a5"/><stop offset="0.29" stop-color="#7800fa"/><stop offset="0.435" stop-color="#0000ff"/><stop offset="0.635" stop-color="#0091ff"/><stop offset="0.79" stop-color="#00f5f5"/><stop offset="0.875" stop-color="#00ee82"/><stop offset="0.98" stop-color="#08ec08"/><stop offset="1" stop-color="#12ec07"/></linearGradient><linearGradient id="g58" gradientUnits="userSpaceOnUse" x1="294.8" y1="204.8" x2="294.4" y2="202.6"><stop offset="0" stop-color="#710077"/><stop offset="0.625" stop-color="#9200a5"/><stop offset="1" stop-color="#8600cc"/></linearGradient><linearGradient id="g59" gradientUnits="userSpaceOnUse" x1="430.3" y1="211.2" x2="433.8" y2="191.9"><stop offset="0" stop-color="#710077"/><stop offset="0.194" stop-color="#9200a5"/><stop offset="0.45" stop-color="#7800fa"/><stop offset="0.674" stop-color="#0000ff"/><stop offset="0.984" stop-color="#0091ff"/><stop offset="1" stop-color="#0097fe"/></linearGradient><linearGradient id="g60" gradientUnits="userSpaceOnUse" x1="377.6" y1="201.3" x2="384.9" y2="161.9"><stop offset="0" stop-color="#710077"/><stop offset="0.125" stop-color="#9200a5"/><stop offset="0.29" stop-color="#7800fa"/><stop offset="0.435" stop-color="#0000ff"/><stop offset="0.635" stop-color="#0091ff"/><stop offset="0.79" stop-color="#00f5f5"/><stop offset="0.875" stop-color="#00ee82"/><stop offset="0.98" stop-color="#08ec08"/><stop offset="1" stop-color="#12ec07"/></linearGradient><linearGradient id="g61" gradientUnits="userSpaceOnUse" x1="232.2" y1="213.6" x2="232.2" y2="213.3"><stop offset="0" stop-color="#710077"/><stop offset="0.833" stop-color="#9200a5"/><stop offset="1" stop-color="#8e00b2"/></linearGradient><linearGradient id="g62" gradientUnits="userSpaceOnUse" x1="458" y1="216.4" x2="457.4" y2="219.5"><stop offset="0" stop-color="#710077"/><stop offset="0.455" stop-color="#9200a5"/><stop offset="1" stop-color="#7a00f2"/></linearGradient><linearGradient id="g63" gradientUnits="userSpaceOnUse" x1="403.5" y1="206.2" x2="415.6" y2="183.9"><stop offset="0" stop-color="#710077"/><stop offset="0.13" stop-color="#9200a5"/><stop offset="0.301" stop-color="#7800fa"/><stop offset="0.451" stop-color="#0000ff"/><stop offset="0.658" stop-color="#0091ff"/><stop offset="0.819" stop-color="#00f5f5"/><stop offset="0.907" stop-color="#00ee82"/><stop offset="1" stop-color="#07ec19"/></linearGradient><linearGradient id="g64" gradientUnits="userSpaceOnUse" x1="320" y1="198.1" x2="314.7" y2="159.2"><stop offset="0" stop-color="#8600cc"/><stop offset="0.112" stop-color="#7800fa"/><stop offset="0.294" stop-color="#0000ff"/><stop offset="0.544" stop-color="#0091ff"/><stop offset="0.738" stop-color="#00f5f5"/><stop offset="0.844" stop-color="#00ee82"/><stop offset="0.975" stop-color="#08ec08"/><stop offset="1" stop-color="#12ec07"/></linearGradient><linearGradient id="g65" gradientUnits="userSpaceOnUse" x1="257.2" y1="209.8" x2="251.9" y2="173.8"><stop offset="0" stop-color="#8e00b2"/><stop offset="0.19" stop-color="#7800fa"/><stop offset="0.388" stop-color="#0000ff"/><stop offset="0.66" stop-color="#0091ff"/><stop offset="0.871" stop-color="#00f5f5"/><stop offset="0.986" stop-color="#00ee82"/><stop offset="1" stop-color="#01ee76"/></linearGradient><linearGradient id="g66" gradientUnits="userSpaceOnUse" x1="430.3" y1="211.2" x2="426.2" y2="214.6"><stop offset="0" stop-color="#710077"/><stop offset="0.194" stop-color="#9200a5"/><stop offset="0.45" stop-color="#7800fa"/><stop offset="0.674" stop-color="#0000ff"/><stop offset="0.984" stop-color="#0091ff"/><stop offset="1" stop-color="#0097fe"/></linearGradient><linearGradient id="g67" gradientUnits="userSpaceOnUse" x1="214.8" y1="234.9" x2="227.9" y2="245.7"><stop offset="0" stop-color="#710077"/><stop offset="0.833" stop-color="#9200a5"/><stop offset="1" stop-color="#8e00b2"/></linearGradient><linearGradient id="g68" gradientUnits="userSpaceOnUse" x1="374.1" y1="161.3" x2="372.5" y2="150.8"><stop offset="0" stop-color="#07ec19"/><stop offset="0.429" stop-color="#08ec08"/><stop offset="1" stop-color="#12ec07"/></linearGradient><linearGradient id="g69" gradientUnits="userSpaceOnUse" x1="459.4" y1="237.7" x2="431.7" y2="239.5"><stop offset="0" stop-color="#710077"/><stop offset="0.455" stop-color="#9200a5"/><stop offset="1" stop-color="#7a00f2"/></linearGradient><linearGradient id="g70" gradientUnits="userSpaceOnUse" x1="283.4" y1="169.2" x2="288.9" y2="181.3"><stop offset="0" stop-color="#01ee76"/><stop offset="0.826" stop-color="#08ec08"/><stop offset="1" stop-color="#12ec07"/></linearGradient><linearGradient id="g71" gradientUnits="userSpaceOnUse" x1="241.5" y1="241.2" x2="249.6" y2="244.8"><stop offset="0" stop-color="#710077"/><stop offset="0.141" stop-color="#9200a5"/><stop offset="0.328" stop-color="#7800fa"/><stop offset="0.492" stop-color="#0000ff"/><stop offset="0.718" stop-color="#0091ff"/><stop offset="0.893" stop-color="#00f5f5"/><stop offset="0.989" stop-color="#00ee82"/><stop offset="1" stop-color="#01ee76"/></linearGradient><linearGradient id="g72" gradientUnits="userSpaceOnUse" x1="401.8" y1="185.9" x2="386.1" y2="155.2"><stop offset="0" stop-color="#0097fe"/><stop offset="0.453" stop-color="#00f5f5"/><stop offset="0.719" stop-color="#00ee82"/><stop offset="1" stop-color="#07ec19"/></linearGradient><linearGradient id="g73" gradientUnits="userSpaceOnUse" x1="374.1" y1="161.3" x2="374.5" y2="164.5"><stop offset="0" stop-color="#07ec19"/><stop offset="0.176" stop-color="#08ec08"/><stop offset="1" stop-color="#2ced05"/></linearGradient><linearGradient id="g74" gradientUnits="userSpaceOnUse" x1="214.8" y1="234.9" x2="222.6" y2="201.7"><stop offset="0" stop-color="#710077"/><stop offset="0.833" stop-color="#9200a5"/><stop offset="1" stop-color="#8e00b2"/></linearGradient><linearGradient id="g75" gradientUnits="userSpaceOnUse" x1="397.5" y1="230.7" x2="380.4" y2="196.6"><stop offset="0" stop-color="#7a00f2"/><stop offset="0.041" stop-color="#7800fa"/><stop offset="0.432" stop-color="#0000ff"/><stop offset="0.973" stop-color="#0091ff"/><stop offset="1" stop-color="#0097fe"/></linearGradient><linearGradient id="g76" gradientUnits="userSpaceOnUse" x1="367.9" y1="196.5" x2="351.2" y2="162.2"><stop offset="0" stop-color="#00bbfb"/><stop offset="0.257" stop-color="#00f5f5"/><stop offset="0.5" stop-color="#00ee82"/><stop offset="0.8" stop-color="#08ec08"/><stop offset="1" stop-color="#2ced05"/></linearGradient><linearGradient id="g77" gradientUnits="userSpaceOnUse" x1="269.3" y1="247.7" x2="292.1" y2="163.2"><stop offset="0" stop-color="#710077"/><stop offset="0.128" stop-color="#9200a5"/><stop offset="0.297" stop-color="#7800fa"/><stop offset="0.446" stop-color="#0000ff"/><stop offset="0.651" stop-color="#0091ff"/><stop offset="0.81" stop-color="#00f5f5"/><stop offset="0.897" stop-color="#00ee82"/><stop offset="1" stop-color="#08ec0e"/></linearGradient><linearGradient id="g78" gradientUnits="userSpaceOnUse" x1="459.4" y1="237.7" x2="444.2" y2="207.4"><stop offset="0" stop-color="#710077"/><stop offset="0.455" stop-color="#9200a5"/><stop offset="1" stop-color="#7a00f2"/></linearGradient><linearGradient id="g79" gradientUnits="userSpaceOnUse" x1="397.5" y1="230.7" x2="377.9" y2="191.5"><stop offset="0" stop-color="#7a00f2"/><stop offset="0.035" stop-color="#7800fa"/><stop offset="0.376" stop-color="#0000ff"/><stop offset="0.847" stop-color="#0091ff"/><stop offset="1" stop-color="#00bbfb"/></linearGradient><linearGradient id="g80" gradientUnits="userSpaceOnUse" x1="241.5" y1="241.2" x2="259.7" y2="163.6"><stop offset="0" stop-color="#710077"/><stop offset="0.141" stop-color="#9200a5"/><stop offset="0.328" stop-color="#7800fa"/><stop offset="0.492" stop-color="#0000ff"/><stop offset="0.718" stop-color="#0091ff"/><stop offset="0.893" stop-color="#00f5f5"/><stop offset="0.989" stop-color="#00ee82"/><stop offset="1" stop-color="#01ee76"/></linearGradient><linearGradient id="g81" gradientUnits="userSpaceOnUse" x1="298.3" y1="254.5" x2="320.1" y2="163.5"><stop offset="0" stop-color="#710077"/><stop offset="0.119" stop-color="#9200a5"/><stop offset="0.276" stop-color="#7800fa"/><stop offset="0.414" stop-color="#0000ff"/><stop offset="0.605" stop-color="#0091ff"/><stop offset="0.752" stop-color="#00f5f5"/><stop offset="0.833" stop-color="#00ee82"/><stop offset="0.933" stop-color="#08ec08"/><stop offset="1" stop-color="#2ced05"/></linearGradient><linearGradient id="g82" gradientUnits="userSpaceOnUse" x1="428.3" y1="255.8" x2="409.6" y2="223.7"><stop offset="0" stop-color="#710077"/><stop offset="0.455" stop-color="#9200a5"/><stop offset="1" stop-color="#7a00f2"/></linearGradient><linearGradient id="g83" gradientUnits="userSpaceOnUse" x1="269.3" y1="247.7" x2="289.1" y2="163.1"><stop offset="0" stop-color="#710077"/><stop offset="0.128" stop-color="#9200a5"/><stop offset="0.297" stop-color="#7800fa"/><stop offset="0.446" stop-color="#0000ff"/><stop offset="0.651" stop-color="#0091ff"/><stop offset="0.81" stop-color="#00f5f5"/><stop offset="0.897" stop-color="#00ee82"/><stop offset="1" stop-color="#08ec0e"/></linearGradient><linearGradient id="g84" gradientUnits="userSpaceOnUse" x1="298.3" y1="254.5" x2="297.5" y2="168.5"><stop offset="0" stop-color="#710077"/><stop offset="0.119" stop-color="#9200a5"/><stop offset="0.276" stop-color="#7800fa"/><stop offset="0.414" stop-color="#0000ff"/><stop offset="0.605" stop-color="#0091ff"/><stop offset="0.752" stop-color="#00f5f5"/><stop offset="0.833" stop-color="#00ee82"/><stop offset="0.933" stop-color="#08ec08"/><stop offset="1" stop-color="#2ced05"/></linearGradient><linearGradient id="g85" gradientUnits="userSpaceOnUse" x1="328.5" y1="261.5" x2="322.5" y2="200.9"><stop offset="0" stop-color="#710077"/><stop offset="0.179" stop-color="#9200a5"/><stop offset="0.414" stop-color="#7800fa"/><stop offset="0.621" stop-color="#0000ff"/><stop offset="0.907" stop-color="#0091ff"/><stop offset="1" stop-color="#00bbfb"/></linearGradient><linearGradient id="g86" gradientUnits="userSpaceOnUse" x1="298.3" y1="254.5" x2="314.8" y2="184"><stop offset="0" stop-color="#710077"/><stop offset="0.179" stop-color="#9200a5"/><stop offset="0.414" stop-color="#7800fa"/><stop offset="0.621" stop-color="#0000ff"/><stop offset="0.907" stop-color="#0091ff"/><stop offset="1" stop-color="#00bbfb"/></linearGradient><linearGradient id="g87" gradientUnits="userSpaceOnUse" x1="359.9" y1="268.9" x2="354.2" y2="239"><stop offset="0" stop-color="#710077"/><stop offset="0.455" stop-color="#9200a5"/><stop offset="1" stop-color="#7a00f2"/></linearGradient><linearGradient id="g88" gradientUnits="userSpaceOnUse" x1="328.5" y1="261.5" x2="338.9" y2="217"><stop offset="0" stop-color="#710077"/><stop offset="0.455" stop-color="#9200a5"/><stop offset="1" stop-color="#7a00f2"/></linearGradient></defs>
<g stroke-width="0.7" stroke-linejoin="round"><path d="M320 198.1L377.6 201.3L352.5 196.7z" fill="url(#g54)" stroke="url(#g54)"/><path d="M294.8 204.8L320 198.1L352.5 196.7z" fill="url(#g55)" stroke="url(#g55)"/><path d="M374.1 161.3L403.5 206.2L377.6 201.3z" fill="url(#g56)" stroke="url(#g56)"/><path class="k" d="M386 179.5L375.5 177.7M376.7 165.3L374.5 164.9"/><path d="M320 198.1L346.9 154.8L377.6 201.3z" fill="url(#g57)" stroke="url(#g57)"/><path class="k" d="M332.9 177.3L360 174.7M343 161.2L350.7 160.5"/><path d="M257.2 209.8L320 198.1L294.8 204.8z" fill="url(#g58)" stroke="url(#g58)"/><path d="M401.8 185.9L430.3 211.2L403.5 206.2z" fill="url(#g59)" stroke="url(#g59)"/><path class="k" d="M404.3 188.2L401.9 187.8"/><path d="M346.9 154.8L374.1 161.3L377.6 201.3z" fill="url(#g60)" stroke="url(#g60)"/><path class="k" d="M375.5 177.7L360 174.7M374.5 164.9L350.7 160.5"/><path d="M232.2 213.6L257.2 209.8L294.8 204.8z" fill="url(#g61)" stroke="url(#g61)"/><path d="M430 214.4L458 216.4L430.3 211.2z" fill="url(#g62)" stroke="url(#g62)"/><path d="M374.1 161.3L401.8 185.9L403.5 206.2z" fill="url(#g63)" stroke="url(#g63)"/><path class="k" d="M401.9 187.8L386 179.5M381 167.4L376.7 165.3"/><path d="M283.4 169.2L346.9 154.8L320 198.1z" fill="url(#g64)" stroke="url(#g64)"/><path class="k" d="M332.9 177.3L299.8 182.1M283.4 169.2L343 161.2"/><path d="M257.2 209.8L283.4 169.2L320 198.1z" fill="url(#g65)" stroke="url(#g65)"/><path class="k" d="M272.7 185.8L299.8 182.1"/><path d="M401.8 185.9L430 214.4L430.3 211.2z" fill="url(#g66)" stroke="url(#g66)"/><path class="k" d="M405.9 190.1L404.3 188.2"/><path d="M214.8 234.9L257.2 209.8L232.2 213.6z" fill="url(#g67)" stroke="url(#g67)"/><path d="M310.7 168.2L374.1 161.3L346.9 154.8z" fill="url(#g68)" stroke="url(#g68)"/><path d="M430 214.4L459.4 237.7L458 216.4z" fill="url(#g69)" stroke="url(#g69)"/><path d="M283.4 169.2L310.7 168.2L346.9 154.8z" fill="url(#g70)" stroke="url(#g70)"/><path class="k" d="M283.4 169.2L283.4 169.2"/><path d="M241.5 241.2L283.4 169.2L257.2 209.8z" fill="url(#g71)" stroke="url(#g71)"/><path class="k" d="M269.9 192.4L272.7 185.8"/><path d="M367.9 196.5L401.8 185.9L374.1 161.3z" fill="url(#g72)" stroke="url(#g72)"/><path class="k" d="M381 167.4L372.4 171.4"/><path d="M310.7 168.2L339.1 168.1L374.1 161.3z" fill="url(#g73)" stroke="url(#g73)"/><path d="M214.8 234.9L241.5 241.2L257.2 209.8z" fill="url(#g74)" stroke="url(#g74)"/><path d="M397.5 230.7L430 214.4L401.8 185.9z" fill="url(#g75)" stroke="url(#g75)"/><path class="k" d="M405.9 190.1L401.2 192.2"/><path d="M339.1 168.1L367.9 196.5L374.1 161.3z" fill="url(#g76)" stroke="url(#g76)"/><path class="k" d="M352.6 181.4L372.4 171.4"/><path d="M269.3 247.7L310.7 168.2L283.4 169.2z" fill="url(#g77)" stroke="url(#g77)"/><path class="k" d="M294.8 198.6L278.9 194.1M307 175.2L283.4 169.2"/><path d="M397.5 230.7L459.4 237.7L430 214.4z" fill="url(#g78)" stroke="url(#g78)"/><path d="M367.9 196.5L397.5 230.7L401.8 185.9z" fill="url(#g79)" stroke="url(#g79)"/><path class="k" d="M375.5 205.3L401.2 192.2"/><path d="M241.5 241.2L269.3 247.7L283.4 169.2z" fill="url(#g80)" stroke="url(#g80)"/><path class="k" d="M278.9 194.1L269.9 192.4"/><path d="M298.3 254.5L339.1 168.1L310.7 168.2z" fill="url(#g81)" stroke="url(#g81)"/><path class="k" d="M321.7 204.9L306 200.8M332.9 181.1L309.6 175.6"/><path d="M397.5 230.7L428.3 255.8L459.4 237.7z" fill="url(#g82)" stroke="url(#g82)"/><path d="M269.3 247.7L298.3 254.5L310.7 168.2z" fill="url(#g83)" stroke="url(#g83)"/><path class="k" d="M306 200.8L294.8 198.6M309.6 175.6L307 175.2"/><path d="M298.3 254.5L367.9 196.5L339.1 168.1z" fill="url(#g84)" stroke="url(#g84)"/><path class="k" d="M357.3 205.3L321.7 204.9M352.6 181.4L332.9 181.1"/><path d="M328.5 261.5L397.5 230.7L367.9 196.5z" fill="url(#g85)" stroke="url(#g85)"/><path class="k" d="M375.5 205.3L362 206.2"/><path d="M298.3 254.5L328.5 261.5L367.9 196.5z" fill="url(#g86)" stroke="url(#g86)"/><path class="k" d="M362 206.2L357.3 205.3"/><path d="M359.9 268.9L428.3 255.8L397.5 230.7z" fill="url(#g87)" stroke="url(#g87)"/><path d="M328.5 261.5L359.9 268.9L397.5 230.7z" fill="url(#g88)" stroke="url(#g88)"/></g>
<path d="M117.5 212.2L111.6 24.3M117.5 212.2L624.6 330.8M624.6 330.8L683.5 258.4" fill="none" stroke="#000" stroke-width="3" stroke-linejoin="round"/>
<path d="M117.5 212.2l-9.5 1M116.5 181.9l-9.5 1M115.6 151.3l-9.5 1M114.6 120.2l-9.5 1M113.6 88.7l-9.5 1M112.6 56.7l-9.5 1M111.6 24.3l-9.5 1M140.5 217.6l-5.2 1.7M189.1 228.9l-5.2 1.8M241.5 241.2l-5.1 2M298.3 254.5l-5 2.3M359.9 268.9l-4.8 2.6M427.1 284.6l-4.6 3M500.5 301.8l-4.3 3.4M581.2 320.6l-3.8 4M624.6 330.8l12.7 3M636.4 316.3l6.8 1.5M647.2 303l12.7 2.7M657.3 290.6l6.9 1.4M666.7 279.1l12.7 2.5M675.4 268.4l6.9 1.3M683.5 258.4l12.8 2.4" fill="none" stroke="#000" stroke-width="2.2" stroke-linecap="butt"/>
<g font-family="'Liberation Serif',serif" fill="#0a0a0a" stroke="#0a0a0a" stroke-width="0.3"><text transform="translate(105,229.2) skewX(-7) scale(0.78,1)" text-anchor="end" font-size="30.5">0</text><text transform="translate(100,193.9) skewX(-7) scale(0.78,1)" text-anchor="end" font-size="30.5">10</text><text transform="translate(99.1,163.3) skewX(-7) scale(0.78,1)" text-anchor="end" font-size="30.5">20</text><text transform="translate(98.1,132.2) skewX(-7) scale(0.78,1)" text-anchor="end" font-size="30.5">30</text><text transform="translate(97.1,100.7) skewX(-7) scale(0.78,1)" text-anchor="end" font-size="30.5">40</text><text transform="translate(96.1,68.7) skewX(-7) scale(0.78,1)" text-anchor="end" font-size="30.5">50</text><text transform="translate(95.1,36.3) skewX(-7) scale(0.78,1)" text-anchor="end" font-size="30.5">60</text><text transform="translate(127.2,250.8) rotate(1.5) scale(0.94,1)" text-anchor="middle" font-size="33">2</text><text transform="translate(175.3,261.6) rotate(1.5) scale(0.94,1)" text-anchor="middle" font-size="33">4</text><text transform="translate(227,273.9) rotate(1.5) scale(0.94,1)" text-anchor="middle" font-size="33">6</text><text transform="translate(288,286.5) rotate(1.5) scale(0.94,1)" text-anchor="middle" font-size="33">8</text><text transform="translate(348.5,303.8) rotate(1.5) scale(0.94,1)" text-anchor="middle" font-size="33">10</text><text transform="translate(415.9,321.5) rotate(1.5) scale(0.94,1)" text-anchor="middle" font-size="33">12</text><text transform="translate(488.7,339.7) rotate(1.5) scale(0.94,1)" text-anchor="middle" font-size="33">14</text><text transform="translate(572.2,358.9) rotate(1.5) scale(0.94,1)" text-anchor="middle" font-size="33">16</text><text transform="translate(655.6,352.7) scale(0.93,1)" text-anchor="middle" font-size="32.5">1</text><text transform="translate(678.2,322.5) scale(0.93,1)" text-anchor="middle" font-size="32.5">2</text><text transform="translate(697.7,296.4) scale(0.93,1)" text-anchor="middle" font-size="32.5">3</text><text transform="translate(714.5,273.4) scale(0.93,1)" text-anchor="middle" font-size="32.5">4</text><text x="309.7" y="341" text-anchor="middle" font-size="36">Row</text><text transform="translate(41.5,115.5) rotate(-90) scale(0.8,1)" text-anchor="middle" font-size="44" stroke="#141414" stroke-width="0.6">Total number</text><text x="418.7" y="402.8" text-anchor="middle" font-size="43">(b)</text><text transform="matrix(0.1227,-0.2607,0.995,0.096,735.9,334.7)" font-weight="bold" font-size="47">Column</text></g>
<defs><linearGradient id="g89" x1="0" y1="0" x2="0" y2="1"><stop offset="0.000" stop-color="#6c0000"/><stop offset="0.018" stop-color="#700000"/><stop offset="0.089" stop-color="#ac0000"/><stop offset="0.154" stop-color="#e40000"/><stop offset="0.212" stop-color="#fc0000"/><stop offset="0.312" stop-color="#ff0000"/><stop offset="0.350" stop-color="#ff0c00"/><stop offset="0.402" stop-color="#ff6400"/><stop offset="0.453" stop-color="#ffbe00"/><stop offset="0.505" stop-color="#fafa00"/><stop offset="0.594" stop-color="#78f000"/><stop offset="0.667" stop-color="#08ec08"/><stop offset="0.702" stop-color="#00ee82"/><stop offset="0.731" stop-color="#00f5f5"/><stop offset="0.782" stop-color="#0091ff"/><stop offset="0.849" stop-color="#0000ff"/><stop offset="0.897" stop-color="#7800fa"/><stop offset="0.952" stop-color="#9200a5"/><stop offset="0.993" stop-color="#710077"/><stop offset="1.000" stop-color="#710077"/></linearGradient><linearGradient id="g89b" x1="0" y1="0" x2="1" y2="0"><stop offset="0" stop-color="#000" stop-opacity="0.45"/><stop offset="0.12" stop-color="#000" stop-opacity="0"/><stop offset="0.88" stop-color="#000" stop-opacity="0"/><stop offset="1" stop-color="#000" stop-opacity="0.45"/></linearGradient></defs>
<rect x="756.4" y="48.6" width="33.5" height="218.3" fill="url(#g89)"/>
<rect x="756.4" y="48.6" width="33.5" height="218.3" fill="url(#g89b)"/>
<rect x="757.9" y="49.2" width="30.5" height="2.6" fill="#e9a9a0"/>
<rect x="756.4" y="48.6" width="33.5" height="218.3" fill="none" stroke="#3a1a1a" stroke-opacity="0.6" stroke-width="1"/>
<path d="M789.9 51.4h11M789.9 94.2h11M789.9 137h11M789.9 179.8h11M789.9 222.6h11M789.9 265.4h11" stroke="#222" stroke-width="1.6" fill="none"/>
<g font-family="'Liberation Serif',serif" fill="#111" stroke="#111" stroke-width="0.35"><text transform="translate(811,58.1) scale(0.88,1)" font-size="20" font-weight="bold">59</text><text transform="translate(811,100.9) scale(0.88,1)" font-size="20" font-weight="bold">47</text><text transform="translate(811,143.7) scale(0.88,1)" font-size="20" font-weight="bold">35</text><text transform="translate(811,186.5) scale(0.88,1)" font-size="20" font-weight="bold">24</text><text transform="translate(811,229.3) scale(0.88,1)" font-size="20" font-weight="bold">12</text><text transform="translate(811,272.1) scale(0.88,1)" font-size="20" font-weight="bold">0.0</text></g>
</g>
<g transform="translate(-3.1,437.2)">
<path d="M116.5 181.9L238.7 149.6M238.7 149.6L686.8 224.8M115.6 151.3L238.6 123.5M238.6 123.5L690.1 190.7M114.6 120.2L238.5 97M238.5 97L693.4 156M113.6 88.7L238.4 70.2M238.4 70.2L696.8 120.8M112.6 56.7L238.3 43.2M238.3 43.2L700.3 85.1M260.1 179.4L260.3 17.3M304.9 187.8L306.7 20.6M352.5 196.7L356.2 24.1M403.5 206.2L409.3 27.9M458 216.4L466.3 31.9M516.5 227.3L527.7 36.3M579.5 239L594 40.9M647.5 251.7L665.7 46M162.5 198.6L158.7 21.1M202.7 186.4L200.6 18.3" fill="none" stroke="#bdbdbd" stroke-width="1" stroke-dasharray="5 2 1.5 2"/>
<path d="M140.5 217.6L260.1 179.4M189.1 228.9L304.9 187.8M241.5 241.2L352.5 196.7M298.3 254.5L403.5 206.2M359.9 268.9L458 216.4M427.1 284.6L516.5 227.3M500.5 301.8L579.5 239M581.2 320.6L647.5 251.7M162.5 198.6L647.2 303M202.7 186.4L666.7 279.1" fill="none" stroke="#d0d0d0" stroke-width="1" stroke-dasharray="4 2"/>
<path d="M238.8 175.4L238.2 15.8" fill="none" stroke="#4a4a4a" stroke-width="1.5"/>
<path d="M117.5 212.2L238.8 175.4M238.8 175.4L683.5 258.4" fill="none" stroke="#999" stroke-width="1"/>
<path d="M111.6 24.3L238.2 15.8M238.2 15.8L703.8 48.7M703.8 48.7L683.5 258.4" fill="none" stroke="#3a3a3a" stroke-width="1.3" stroke-dasharray="9 4"/>
<path d="M202.7 186.4L260.1 179.4L238.8 175.4zM224.6 190.8L282.1 183.5L260.1 179.4zM202.7 186.4L224.6 190.8L260.1 179.4zM247.2 195.3L304.9 187.8L282.1 183.5zM224.6 190.8L247.2 195.3L282.1 183.5zM162.5 198.6L224.6 190.8L202.7 186.4zM247.2 195.3L270.6 200L304.9 187.8zM184.9 203.4L247.2 195.3L224.6 190.8zM162.5 198.6L184.9 203.4L224.6 190.8zM208.2 208.4L270.6 200L247.2 195.3zM184.9 203.4L208.2 208.4L247.2 195.3zM117.5 212.2L184.9 203.4L162.5 198.6zM208.2 208.4L232.2 213.6L270.6 200zM140.5 217.6L208.2 208.4L184.9 203.4zM117.5 212.2L140.5 217.6L184.9 203.4zM164.3 223.1L232.2 213.6L208.2 208.4zM140.5 217.6L164.3 223.1L208.2 208.4zM459.4 237.7L516.5 227.3L486.7 221.7zM164.3 223.1L189.1 228.9L232.2 213.6zM490.6 243.9L547.4 233.1L516.5 227.3zM459.4 237.7L490.6 243.9L516.5 227.3zM523 250.4L579.5 239L547.4 233.1zM490.6 243.9L523 250.4L547.4 233.1zM556.7 257.1L612.8 245.3L579.5 239zM428.3 255.8L490.6 243.9L459.4 237.7zM523 250.4L556.7 257.1L579.5 239zM591.8 264.2L647.5 251.7L612.8 245.3zM461 262.9L523 250.4L490.6 243.9zM556.7 257.1L591.8 264.2L612.8 245.3zM428.3 255.8L461 262.9L490.6 243.9zM628.5 271.5L683.5 258.4L647.5 251.7zM495.1 270.2L556.7 257.1L523 250.4zM591.8 264.2L628.5 271.5L647.5 251.7zM461 262.9L495.1 270.2L523 250.4zM530.6 277.8L591.8 264.2L556.7 257.1zM628.5 271.5L666.7 279.1L683.5 258.4zM392.8 276.6L461 262.9L428.3 255.8zM495.1 270.2L530.6 277.8L556.7 257.1zM567.8 285.8L628.5 271.5L591.8 264.2zM427.1 284.6L495.1 270.2L461 262.9zM530.6 277.8L567.8 285.8L591.8 264.2zM392.8 276.6L427.1 284.6L461 262.9zM606.6 294.2L666.7 279.1L628.5 271.5zM462.9 293L530.6 277.8L495.1 270.2zM567.8 285.8L606.6 294.2L628.5 271.5zM427.1 284.6L462.9 293L495.1 270.2zM500.5 301.8L567.8 285.8L530.6 277.8zM606.6 294.2L647.2 303L666.7 279.1zM462.9 293L500.5 301.8L530.6 277.8zM539.9 311L606.6 294.2L567.8 285.8zM500.5 301.8L539.9 311L567.8 285.8zM581.2 320.6L647.2 303L606.6 294.2zM539.9 311L581.2 320.6L606.6 294.2zM581.2 320.6L624.6 330.8L647.2 303z" fill="#710077" stroke="#710077" stroke-width="0.7"/>
<path d="M140.5 217.6L184.9 203.4M184.9 203.4L224.6 190.8M224.6 190.8L260.1 179.4M189.1 228.9L232.2 213.6M232.2 213.6L270.6 200M270.6 200L304.9 187.8M427.1 284.6L461 262.9M461 262.9L490.6 243.9M490.6 243.9L516.5 227.3M500.5 301.8L530.6 277.8M530.6 277.8L556.7 257.1M556.7 257.1L579.5 239M581.2 320.6L606.6 294.2M606.6 294.2L628.5 271.5M628.5 271.5L647.5 251.7" fill="none" stroke="#b44db4" stroke-opacity="0.9" stroke-width="1.1"/>
<path d="M162.5 198.6L232.2 213.6M438 257.9L647.2 303M202.7 186.4L270.6 200M468.6 239.5L666.7 279.1" fill="none" stroke="#e48de4" stroke-width="1.25" stroke-dasharray="2.6 2.4"/>
<defs><linearGradient id="g90" gradientUnits="userSpaceOnUse" x1="270.6" y1="200" x2="270.3" y2="199.2"><stop offset="0" stop-color="#710077"/><stop offset="0.5" stop-color="#9200a5"/><stop offset="1" stop-color="#7e00e5"/></linearGradient><linearGradient id="g91" gradientUnits="userSpaceOnUse" x1="328.5" y1="178.5" x2="326.6" y2="168.3"><stop offset="0" stop-color="#7e00e5"/><stop offset="0.114" stop-color="#7800fa"/><stop offset="0.529" stop-color="#0000ff"/><stop offset="1" stop-color="#0078ff"/></linearGradient><linearGradient id="g92" gradientUnits="userSpaceOnUse" x1="270.6" y1="200" x2="267.3" y2="184.9"><stop offset="0" stop-color="#710077"/><stop offset="0.278" stop-color="#9200a5"/><stop offset="0.644" stop-color="#7800fa"/><stop offset="0.967" stop-color="#0000ff"/><stop offset="1" stop-color="#000bff"/></linearGradient><linearGradient id="g93" gradientUnits="userSpaceOnUse" x1="353.3" y1="163.2" x2="351.6" y2="147.5"><stop offset="0" stop-color="#0078ff"/><stop offset="0.087" stop-color="#0091ff"/><stop offset="0.475" stop-color="#00f5f5"/><stop offset="0.688" stop-color="#00ee82"/><stop offset="0.95" stop-color="#08ec08"/><stop offset="1" stop-color="#12ec07"/></linearGradient><linearGradient id="g94" gradientUnits="userSpaceOnUse" x1="295" y1="178.8" x2="291.3" y2="155.1"><stop offset="0" stop-color="#000bff"/><stop offset="0.336" stop-color="#0091ff"/><stop offset="0.618" stop-color="#00f5f5"/><stop offset="0.773" stop-color="#00ee82"/><stop offset="0.964" stop-color="#08ec08"/><stop offset="1" stop-color="#12ec07"/></linearGradient><linearGradient id="g95" gradientUnits="userSpaceOnUse" x1="232.2" y1="213.6" x2="228.3" y2="202.5"><stop offset="0" stop-color="#710077"/><stop offset="0.278" stop-color="#9200a5"/><stop offset="0.644" stop-color="#7800fa"/><stop offset="0.967" stop-color="#0000ff"/><stop offset="1" stop-color="#000bff"/></linearGradient><linearGradient id="g96" gradientUnits="userSpaceOnUse" x1="374.1" y1="162.2" x2="392.7" y2="137.8"><stop offset="0" stop-color="#06ed2b"/><stop offset="0.462" stop-color="#08ec08"/><stop offset="1" stop-color="#1aed07"/></linearGradient><linearGradient id="g97" gradientUnits="userSpaceOnUse" x1="346.9" y1="156.3" x2="344.7" y2="145.7"><stop offset="0" stop-color="#08ec0e"/><stop offset="0.2" stop-color="#08ec08"/><stop offset="1" stop-color="#12ec07"/></linearGradient><linearGradient id="g98" gradientUnits="userSpaceOnUse" x1="431.6" y1="175.5" x2="422.1" y2="142.6"><stop offset="0" stop-color="#007fff"/><stop offset="0.062" stop-color="#0091ff"/><stop offset="0.444" stop-color="#00f5f5"/><stop offset="0.654" stop-color="#00ee82"/><stop offset="0.914" stop-color="#08ec08"/><stop offset="1" stop-color="#1aed07"/></linearGradient><linearGradient id="g99" gradientUnits="userSpaceOnUse" x1="374.1" y1="162.2" x2="371" y2="146.9"><stop offset="0" stop-color="#06ed2b"/><stop offset="0.857" stop-color="#08ec08"/><stop offset="1" stop-color="#0bec08"/></linearGradient><linearGradient id="g100" gradientUnits="userSpaceOnUse" x1="232.2" y1="213.6" x2="228.1" y2="201.2"><stop offset="0" stop-color="#710077"/><stop offset="0.278" stop-color="#9200a5"/><stop offset="0.644" stop-color="#7800fa"/><stop offset="0.967" stop-color="#0000ff"/><stop offset="1" stop-color="#000bff"/></linearGradient><linearGradient id="g101" gradientUnits="userSpaceOnUse" x1="295" y1="178.8" x2="288.8" y2="166.2"><stop offset="0" stop-color="#000bff"/><stop offset="0.336" stop-color="#0091ff"/><stop offset="0.618" stop-color="#00f5f5"/><stop offset="0.773" stop-color="#00ee82"/><stop offset="0.964" stop-color="#08ec08"/><stop offset="1" stop-color="#12ec07"/></linearGradient><linearGradient id="g102" gradientUnits="userSpaceOnUse" x1="459.5" y1="182.2" x2="435" y2="169.1"><stop offset="0" stop-color="#0066ff"/><stop offset="1" stop-color="#007fff"/></linearGradient><linearGradient id="g103" gradientUnits="userSpaceOnUse" x1="257.2" y1="191.5" x2="254.7" y2="184.1"><stop offset="0" stop-color="#000bff"/><stop offset="0.529" stop-color="#0091ff"/><stop offset="0.971" stop-color="#00f5f5"/><stop offset="1" stop-color="#00f4e7"/></linearGradient><linearGradient id="g104" gradientUnits="userSpaceOnUse" x1="401.7" y1="188.8" x2="388.5" y2="156.4"><stop offset="0" stop-color="#0078ff"/><stop offset="0.1" stop-color="#0091ff"/><stop offset="0.543" stop-color="#00f5f5"/><stop offset="0.786" stop-color="#00ee82"/><stop offset="1" stop-color="#06ed2b"/></linearGradient><linearGradient id="g105" gradientUnits="userSpaceOnUse" x1="310.6" y1="169.8" x2="308.5" y2="152.1"><stop offset="0" stop-color="#06ed2b"/><stop offset="0.6" stop-color="#08ec08"/><stop offset="1" stop-color="#12ec07"/></linearGradient><linearGradient id="g106" gradientUnits="userSpaceOnUse" x1="459.4" y1="237.7" x2="435.2" y2="196.3"><stop offset="0" stop-color="#710077"/><stop offset="0.217" stop-color="#9200a5"/><stop offset="0.504" stop-color="#7800fa"/><stop offset="0.757" stop-color="#0000ff"/><stop offset="1" stop-color="#0066ff"/></linearGradient><linearGradient id="g107" gradientUnits="userSpaceOnUse" x1="401.7" y1="188.8" x2="404.8" y2="170.8"><stop offset="0" stop-color="#0078ff"/><stop offset="1" stop-color="#007fff"/></linearGradient><linearGradient id="g108" gradientUnits="userSpaceOnUse" x1="189.1" y1="228.9" x2="184.9" y2="217.2"><stop offset="0" stop-color="#710077"/><stop offset="0.278" stop-color="#9200a5"/><stop offset="0.644" stop-color="#7800fa"/><stop offset="0.967" stop-color="#0000ff"/><stop offset="1" stop-color="#000bff"/></linearGradient><linearGradient id="g109" gradientUnits="userSpaceOnUse" x1="310.6" y1="169.8" x2="309.6" y2="160.8"><stop offset="0" stop-color="#06ed2b"/><stop offset="1" stop-color="#08ec0e"/></linearGradient><linearGradient id="g110" gradientUnits="userSpaceOnUse" x1="283.4" y1="174.6" x2="319.3" y2="176.4"><stop offset="0" stop-color="#00f4e7"/><stop offset="0.375" stop-color="#00ee82"/><stop offset="0.9" stop-color="#08ec08"/><stop offset="1" stop-color="#12ec07"/></linearGradient><linearGradient id="g111" gradientUnits="userSpaceOnUse" x1="459.4" y1="237.7" x2="436.4" y2="191.1"><stop offset="0" stop-color="#710077"/><stop offset="0.208" stop-color="#9200a5"/><stop offset="0.483" stop-color="#7800fa"/><stop offset="0.725" stop-color="#0000ff"/><stop offset="1" stop-color="#0078ff"/></linearGradient><linearGradient id="g112" gradientUnits="userSpaceOnUse" x1="214.5" y1="205.8" x2="212.1" y2="198.5"><stop offset="0" stop-color="#000bff"/><stop offset="0.529" stop-color="#0091ff"/><stop offset="0.971" stop-color="#00f5f5"/><stop offset="1" stop-color="#00f4e7"/></linearGradient><linearGradient id="g113" gradientUnits="userSpaceOnUse" x1="367.8" y1="203.1" x2="354.1" y2="170.7"><stop offset="0" stop-color="#0078ff"/><stop offset="0.1" stop-color="#0091ff"/><stop offset="0.543" stop-color="#00f5f5"/><stop offset="0.786" stop-color="#00ee82"/><stop offset="1" stop-color="#06ed2b"/></linearGradient><linearGradient id="g114" gradientUnits="userSpaceOnUse" x1="189.1" y1="228.9" x2="184.7" y2="215.8"><stop offset="0" stop-color="#710077"/><stop offset="0.278" stop-color="#9200a5"/><stop offset="0.644" stop-color="#7800fa"/><stop offset="0.967" stop-color="#0000ff"/><stop offset="1" stop-color="#000bff"/></linearGradient><linearGradient id="g115" gradientUnits="userSpaceOnUse" x1="310.6" y1="169.8" x2="311.2" y2="174.7"><stop offset="0" stop-color="#06ed2b"/><stop offset="0.6" stop-color="#08ec08"/><stop offset="1" stop-color="#12ec07"/></linearGradient><linearGradient id="g116" gradientUnits="userSpaceOnUse" x1="367.8" y1="203.1" x2="352.3" y2="165.9"><stop offset="0" stop-color="#0078ff"/><stop offset="0.087" stop-color="#0091ff"/><stop offset="0.475" stop-color="#00f5f5"/><stop offset="0.688" stop-color="#00ee82"/><stop offset="0.95" stop-color="#08ec08"/><stop offset="1" stop-color="#12ec07"/></linearGradient><linearGradient id="g117" gradientUnits="userSpaceOnUse" x1="283.4" y1="174.6" x2="283.4" y2="174.8"><stop offset="0" stop-color="#00f4e7"/><stop offset="0.5" stop-color="#00ee82"/><stop offset="1" stop-color="#06ed2b"/></linearGradient><linearGradient id="g118" gradientUnits="userSpaceOnUse" x1="214.5" y1="205.8" x2="210.5" y2="190.5"><stop offset="0" stop-color="#000bff"/><stop offset="0.425" stop-color="#0091ff"/><stop offset="0.782" stop-color="#00f5f5"/><stop offset="0.977" stop-color="#00ee82"/><stop offset="1" stop-color="#01ee76"/></linearGradient><linearGradient id="g119" gradientUnits="userSpaceOnUse" x1="459.4" y1="237.7" x2="437.8" y2="190.7"><stop offset="0" stop-color="#710077"/><stop offset="0.208" stop-color="#9200a5"/><stop offset="0.483" stop-color="#7800fa"/><stop offset="0.725" stop-color="#0000ff"/><stop offset="1" stop-color="#0078ff"/></linearGradient><linearGradient id="g120" gradientUnits="userSpaceOnUse" x1="310.6" y1="169.8" x2="316.8" y2="182.3"><stop offset="0" stop-color="#06ed2b"/><stop offset="0.6" stop-color="#08ec08"/><stop offset="1" stop-color="#12ec07"/></linearGradient><linearGradient id="g121" gradientUnits="userSpaceOnUse" x1="241.3" y1="182.4" x2="248.8" y2="198.5"><stop offset="0" stop-color="#01ee76"/><stop offset="1" stop-color="#06ed2b"/></linearGradient><linearGradient id="g122" gradientUnits="userSpaceOnUse" x1="428.3" y1="255.8" x2="400.2" y2="207.7"><stop offset="0" stop-color="#710077"/><stop offset="0.208" stop-color="#9200a5"/><stop offset="0.483" stop-color="#7800fa"/><stop offset="0.725" stop-color="#0000ff"/><stop offset="1" stop-color="#0078ff"/></linearGradient><linearGradient id="g123" gradientUnits="userSpaceOnUse" x1="367.8" y1="203.1" x2="355.3" y2="165.9"><stop offset="0" stop-color="#0078ff"/><stop offset="0.087" stop-color="#0091ff"/><stop offset="0.475" stop-color="#00f5f5"/><stop offset="0.688" stop-color="#00ee82"/><stop offset="0.95" stop-color="#08ec08"/><stop offset="1" stop-color="#12ec07"/></linearGradient><linearGradient id="g124" gradientUnits="userSpaceOnUse" x1="269.5" y1="184.3" x2="275.6" y2="197.3"><stop offset="0" stop-color="#05ed3c"/><stop offset="0.9" stop-color="#08ec08"/><stop offset="1" stop-color="#0bec08"/></linearGradient><linearGradient id="g125" gradientUnits="userSpaceOnUse" x1="329.1" y1="219.5" x2="312.6" y2="180.6"><stop offset="0" stop-color="#0078ff"/><stop offset="0.091" stop-color="#0091ff"/><stop offset="0.494" stop-color="#00f5f5"/><stop offset="0.714" stop-color="#00ee82"/><stop offset="0.987" stop-color="#08ec08"/><stop offset="1" stop-color="#0bec08"/></linearGradient><linearGradient id="g126" gradientUnits="userSpaceOnUse" x1="428.3" y1="255.8" x2="405.3" y2="205.6"><stop offset="0" stop-color="#710077"/><stop offset="0.208" stop-color="#9200a5"/><stop offset="0.483" stop-color="#7800fa"/><stop offset="0.725" stop-color="#0000ff"/><stop offset="1" stop-color="#0078ff"/></linearGradient><linearGradient id="g127" gradientUnits="userSpaceOnUse" x1="392.8" y1="276.6" x2="362.7" y2="225"><stop offset="0" stop-color="#710077"/><stop offset="0.208" stop-color="#9200a5"/><stop offset="0.483" stop-color="#7800fa"/><stop offset="0.725" stop-color="#0000ff"/><stop offset="1" stop-color="#0078ff"/></linearGradient></defs>
<g stroke-width="0.7" stroke-linejoin="round"><path d="M270.6 200L328.5 178.5L304.9 187.8z" fill="url(#g90)" stroke="url(#g90)"/><path d="M295 178.8L353.3 163.2L328.5 178.5z" fill="url(#g91)" stroke="url(#g91)"/><path class="k" d="M349.5 164.2L352.5 163.6"/><path d="M270.6 200L295 178.8L328.5 178.5z" fill="url(#g92)" stroke="url(#g92)"/><path d="M320.6 150.6L379.1 145.2L353.3 163.2z" fill="url(#g93)" stroke="url(#g93)"/><path class="k" d="M372.3 150L330.4 154.4"/><path d="M295 178.8L320.6 150.6L353.3 163.2z" fill="url(#g94)" stroke="url(#g94)"/><path class="k" d="M301.4 171.7L349.5 164.2M315.2 156.6L330.4 154.4"/><path d="M232.2 213.6L295 178.8L270.6 200z" fill="url(#g95)" stroke="url(#g95)"/><path d="M374.1 162.2L405.4 147.4L379.1 145.2z" fill="url(#g96)" stroke="url(#g96)"/><path d="M320.6 150.6L346.9 156.3L379.1 145.2z" fill="url(#g97)" stroke="url(#g97)"/><path d="M374.1 162.2L431.6 175.5L405.4 147.4z" fill="url(#g98)" stroke="url(#g98)"/><path class="k" d="M385.5 164.9L413.8 156.3"/><path d="M346.9 156.3L374.1 162.2L379.1 145.2z" fill="url(#g99)" stroke="url(#g99)"/><path d="M232.2 213.6L257.2 191.5L295 178.8z" fill="url(#g100)" stroke="url(#g100)"/><path d="M283.4 174.6L320.6 150.6L295 178.8z" fill="url(#g101)" stroke="url(#g101)"/><path class="k" d="M301.4 171.7L290.6 177.2M299.7 164L315.2 156.6"/><path d="M430.8 193.9L459.5 182.2L431.6 175.5z" fill="url(#g102)" stroke="url(#g102)"/><path class="k" d="M442.7 189L447.5 179.3"/><path d="M257.2 191.5L283.4 174.6L295 178.8z" fill="url(#g103)" stroke="url(#g103)"/><path class="k" d="M267.5 184.8L290.6 177.2"/><path d="M374.1 162.2L401.7 188.8L431.6 175.5z" fill="url(#g104)" stroke="url(#g104)"/><path class="k" d="M379.2 167.1L385.5 164.9"/><path d="M310.6 169.8L346.9 156.3L320.6 150.6z" fill="url(#g105)" stroke="url(#g105)"/><path d="M459.4 237.7L486.7 221.7L459.5 182.2z" fill="url(#g106)" stroke="url(#g106)"/><path d="M401.7 188.8L430.8 193.9L431.6 175.5z" fill="url(#g107)" stroke="url(#g107)"/><path d="M189.1 228.9L257.2 191.5L232.2 213.6z" fill="url(#g108)" stroke="url(#g108)"/><path d="M310.6 169.8L374.1 162.2L346.9 156.3z" fill="url(#g109)" stroke="url(#g109)"/><path d="M283.4 174.6L310.6 169.8L320.6 150.6z" fill="url(#g110)" stroke="url(#g110)"/><path class="k" d="M298.7 171.9L299.7 164"/><path d="M430.8 193.9L459.4 237.7L459.5 182.2z" fill="url(#g111)" stroke="url(#g111)"/><path class="k" d="M431.3 194.6L442.7 189"/><path d="M214.5 205.8L283.4 174.6L257.2 191.5z" fill="url(#g112)" stroke="url(#g112)"/><path class="k" d="M242.7 193L267.5 184.8"/><path d="M367.8 203.1L401.7 188.8L374.1 162.2z" fill="url(#g113)" stroke="url(#g113)"/><path class="k" d="M379.2 167.1L373 169.4"/><path d="M189.1 228.9L214.5 205.8L257.2 191.5z" fill="url(#g114)" stroke="url(#g114)"/><path d="M310.6 169.8L339 171.4L374.1 162.2z" fill="url(#g115)" stroke="url(#g115)"/><path d="M367.8 203.1L430.8 193.9L401.7 188.8z" fill="#0078ff" stroke="#0078ff"/><path d="M339 171.4L367.8 203.1L374.1 162.2z" fill="url(#g116)" stroke="url(#g116)"/><path class="k" d="M347.2 180.4L373 169.4"/><path d="M241.3 182.4L310.6 169.8L283.4 174.6z" fill="url(#g117)" stroke="url(#g117)"/><path class="k" d="M241.3 182.4L298.7 171.9"/><path d="M214.5 205.8L241.3 182.4L283.4 174.6z" fill="url(#g118)" stroke="url(#g118)"/><path class="k" d="M223 198.4L242.7 193"/><path d="M398.2 208.9L459.4 237.7L430.8 193.9z" fill="url(#g119)" stroke="url(#g119)"/><path class="k" d="M399.3 209.4L431.3 194.6"/><path d="M367.8 203.1L398.2 208.9L430.8 193.9z" fill="#0078ff" stroke="#0078ff"/><path d="M298.9 186.4L339 171.4L310.6 169.8z" fill="url(#g120)" stroke="url(#g120)"/><path d="M241.3 182.4L269.5 184.3L310.6 169.8z" fill="url(#g121)" stroke="url(#g121)"/><path class="k" d="M241.3 182.4L241.3 182.4"/><path d="M398.2 208.9L428.3 255.8L459.4 237.7z" fill="url(#g122)" stroke="url(#g122)"/><path class="k" d="M398.7 209.7L399.3 209.4"/><path d="M298.9 186.4L367.8 203.1L339 171.4z" fill="url(#g123)" stroke="url(#g123)"/><path class="k" d="M317.5 190.9L347.2 180.4"/><path d="M269.5 184.3L298.9 186.4L310.6 169.8z" fill="url(#g124)" stroke="url(#g124)"/><path d="M329.1 219.5L398.2 208.9L367.8 203.1z" fill="#0078ff" stroke="#0078ff"/><path d="M298.9 186.4L329.1 219.5L367.8 203.1z" fill="url(#g125)" stroke="url(#g125)"/><path class="k" d="M306.7 194.9L317.5 190.9"/><path d="M360.9 226L428.3 255.8L398.2 208.9z" fill="url(#g126)" stroke="url(#g126)"/><path class="k" d="M362.1 226.5L398.7 209.7"/><path d="M329.1 219.5L360.9 226L398.2 208.9z" fill="#0078ff" stroke="#0078ff"/><path d="M360.9 226L392.8 276.6L428.3 255.8z" fill="url(#g127)" stroke="url(#g127)"/><path class="k" d="M361.4 226.9L362.1 226.5"/></g>
<path d="M117.5 212.2L111.6 24.3M117.5 212.2L624.6 330.8M624.6 330.8L683.5 258.4" fill="none" stroke="#000" stroke-width="3" stroke-linejoin="round"/>
<path d="M117.5 212.2l-9.5 1M116.5 181.9l-9.5 1M115.6 151.3l-9.5 1M114.6 120.2l-9.5 1M113.6 88.7l-9.5 1M112.6 56.7l-9.5 1M111.6 24.3l-9.5 1M140.5 217.6l-5.2 1.7M189.1 228.9l-5.2 1.8M241.5 241.2l-5.1 2M298.3 254.5l-5 2.3M359.9 268.9l-4.8 2.6M427.1 284.6l-4.6 3M500.5 301.8l-4.3 3.4M581.2 320.6l-3.8 4M624.6 330.8l12.7 3M636.4 316.3l6.8 1.5M647.2 303l12.7 2.7M657.3 290.6l6.9 1.4M666.7 279.1l12.7 2.5M675.4 268.4l6.9 1.3M683.5 258.4l12.8 2.4" fill="none" stroke="#000" stroke-width="2.2" stroke-linecap="butt"/>
<g font-family="'Liberation Serif',serif" fill="#0a0a0a" stroke="#0a0a0a" stroke-width="0.3"><text transform="translate(105,229.2) skewX(-7) scale(0.78,1)" text-anchor="end" font-size="30.5">0</text><text transform="translate(100,193.9) skewX(-7) scale(0.78,1)" text-anchor="end" font-size="30.5">10</text><text transform="translate(99.1,163.3) skewX(-7) scale(0.78,1)" text-anchor="end" font-size="30.5">20</text><text transform="translate(98.1,132.2) skewX(-7) scale(0.78,1)" text-anchor="end" font-size="30.5">30</text><text transform="translate(97.1,100.7) skewX(-7) scale(0.78,1)" text-anchor="end" font-size="30.5">40</text><text transform="translate(96.1,68.7) skewX(-7) scale(0.78,1)" text-anchor="end" font-size="30.5">50</text><text transform="translate(95.1,36.3) skewX(-7) scale(0.78,1)" text-anchor="end" font-size="30.5">60</text><text transform="translate(127.2,250.8) rotate(1.5) scale(0.94,1)" text-anchor="middle" font-size="33">2</text><text transform="translate(175.3,261.6) rotate(1.5) scale(0.94,1)" text-anchor="middle" font-size="33">4</text><text transform="translate(227,273.9) rotate(1.5) scale(0.94,1)" text-anchor="middle" font-size="33">6</text><text transform="translate(288,286.5) rotate(1.5) scale(0.94,1)" text-anchor="middle" font-size="33">8</text><text transform="translate(348.5,303.8) rotate(1.5) scale(0.94,1)" text-anchor="middle" font-size="33">10</text><text transform="translate(415.9,321.5) rotate(1.5) scale(0.94,1)" text-anchor="middle" font-size="33">12</text><text transform="translate(488.7,339.7) rotate(1.5) scale(0.94,1)" text-anchor="middle" font-size="33">14</text><text transform="translate(572.2,358.9) rotate(1.5) scale(0.94,1)" text-anchor="middle" font-size="33">16</text><text transform="translate(655.6,352.7) scale(0.93,1)" text-anchor="middle" font-size="32.5">1</text><text transform="translate(678.2,322.5) scale(0.93,1)" text-anchor="middle" font-size="32.5">2</text><text transform="translate(697.7,296.4) scale(0.93,1)" text-anchor="middle" font-size="32.5">3</text><text transform="translate(714.5,273.4) scale(0.93,1)" text-anchor="middle" font-size="32.5">4</text><text x="309.7" y="341" text-anchor="middle" font-size="36">Row</text><text transform="translate(41.5,115.5) rotate(-90) scale(0.8,1)" text-anchor="middle" font-size="44" stroke="#141414" stroke-width="0.6">Total number</text><text x="421.1" y="402.4" text-anchor="middle" font-size="43">(c)</text><text transform="matrix(0.1227,-0.2607,0.995,0.096,735.9,334.7)" font-weight="bold" font-size="47">Column</text></g>
<defs><linearGradient id="g128" x1="0" y1="0" x2="0" y2="1"><stop offset="0.000" stop-color="#6c0000"/><stop offset="0.018" stop-color="#700000"/><stop offset="0.089" stop-color="#ac0000"/><stop offset="0.154" stop-color="#e40000"/><stop offset="0.212" stop-color="#fc0000"/><stop offset="0.312" stop-color="#ff0000"/><stop offset="0.350" stop-color="#ff0c00"/><stop offset="0.402" stop-color="#ff6400"/><stop offset="0.453" stop-color="#ffbe00"/><stop offset="0.505" stop-color="#fafa00"/><stop offset="0.594" stop-color="#78f000"/><stop offset="0.667" stop-color="#08ec08"/><stop offset="0.702" stop-color="#00ee82"/><stop offset="0.731" stop-color="#00f5f5"/><stop offset="0.782" stop-color="#0091ff"/><stop offset="0.849" stop-color="#0000ff"/><stop offset="0.897" stop-color="#7800fa"/><stop offset="0.952" stop-color="#9200a5"/><stop offset="0.993" stop-color="#710077"/><stop offset="1.000" stop-color="#710077"/></linearGradient><linearGradient id="g128b" x1="0" y1="0" x2="1" y2="0"><stop offset="0" stop-color="#000" stop-opacity="0.45"/><stop offset="0.12" stop-color="#000" stop-opacity="0"/><stop offset="0.88" stop-color="#000" stop-opacity="0"/><stop offset="1" stop-color="#000" stop-opacity="0.45"/></linearGradient></defs>
<rect x="756.4" y="48.6" width="33.5" height="218.3" fill="url(#g128)"/>
<rect x="756.4" y="48.6" width="33.5" height="218.3" fill="url(#g128b)"/>
<rect x="757.9" y="49.2" width="30.5" height="2.6" fill="#e9a9a0"/>
<rect x="756.4" y="48.6" width="33.5" height="218.3" fill="none" stroke="#3a1a1a" stroke-opacity="0.6" stroke-width="1"/>
<path d="M789.9 51.4h11M789.9 94.2h11M789.9 137h11M789.9 179.8h11M789.9 222.6h11M789.9 265.4h11" stroke="#222" stroke-width="1.6" fill="none"/>
<g font-family="'Liberation Serif',serif" fill="#111" stroke="#111" stroke-width="0.35"><text transform="translate(811,58.1) scale(0.88,1)" font-size="20" font-weight="bold">59</text><text transform="translate(811,100.9) scale(0.88,1)" font-size="20" font-weight="bold">47</text><text transform="translate(811,143.7) scale(0.88,1)" font-size="20" font-weight="bold">35</text><text transform="translate(811,186.5) scale(0.88,1)" font-size="20" font-weight="bold">24</text><text transform="translate(811,229.3) scale(0.88,1)" font-size="20" font-weight="bold">12</text><text transform="translate(811,272.1) scale(0.88,1)" font-size="20" font-weight="bold">0.0</text></g>
</g>
<g transform="translate(859.3,437.2)">
<path d="M116.5 181.9L238.7 149.6M238.7 149.6L686.8 224.8M115.6 151.3L238.6 123.5M238.6 123.5L690.1 190.7M114.6 120.2L238.5 97M238.5 97L693.4 156M113.6 88.7L238.4 70.2M238.4 70.2L696.8 120.8M112.6 56.7L238.3 43.2M238.3 43.2L700.3 85.1M260.1 179.4L260.3 17.3M304.9 187.8L306.7 20.6M352.5 196.7L356.2 24.1M403.5 206.2L409.3 27.9M458 216.4L466.3 31.9M516.5 227.3L527.7 36.3M579.5 239L594 40.9M647.5 251.7L665.7 46M162.5 198.6L158.7 21.1M202.7 186.4L200.6 18.3" fill="none" stroke="#bdbdbd" stroke-width="1" stroke-dasharray="5 2 1.5 2"/>
<path d="M140.5 217.6L260.1 179.4M189.1 228.9L304.9 187.8M241.5 241.2L352.5 196.7M298.3 254.5L403.5 206.2M359.9 268.9L458 216.4M427.1 284.6L516.5 227.3M500.5 301.8L579.5 239M581.2 320.6L647.5 251.7M162.5 198.6L647.2 303M202.7 186.4L666.7 279.1" fill="none" stroke="#d0d0d0" stroke-width="1" stroke-dasharray="4 2"/>
<path d="M238.8 175.4L238.2 15.8" fill="none" stroke="#4a4a4a" stroke-width="1.5"/>
<path d="M117.5 212.2L238.8 175.4M238.8 175.4L683.5 258.4" fill="none" stroke="#999" stroke-width="1"/>
<path d="M111.6 24.3L238.2 15.8M238.2 15.8L703.8 48.7M703.8 48.7L683.5 258.4" fill="none" stroke="#3a3a3a" stroke-width="1.3" stroke-dasharray="9 4"/>
<path d="M459.4 237.7L516.5 227.3L486.7 221.7zM490.6 243.9L547.4 233.1L516.5 227.3zM459.4 237.7L490.6 243.9L516.5 227.3zM523 250.4L579.5 239L547.4 233.1zM490.6 243.9L523 250.4L547.4 233.1zM556.7 257.1L612.8 245.3L579.5 239zM428.3 255.8L490.6 243.9L459.4 237.7zM523 250.4L556.7 257.1L579.5 239zM591.8 264.2L647.5 251.7L612.8 245.3zM461 262.9L523 250.4L490.6 243.9zM556.7 257.1L591.8 264.2L612.8 245.3zM428.3 255.8L461 262.9L490.6 243.9zM628.5 271.5L683.5 258.4L647.5 251.7zM495.1 270.2L556.7 257.1L523 250.4zM591.8 264.2L628.5 271.5L647.5 251.7zM461 262.9L495.1 270.2L523 250.4zM530.6 277.8L591.8 264.2L556.7 257.1zM628.5 271.5L666.7 279.1L683.5 258.4zM392.8 276.6L461 262.9L428.3 255.8zM495.1 270.2L530.6 277.8L556.7 257.1zM567.8 285.8L628.5 271.5L591.8 264.2zM427.1 284.6L495.1 270.2L461 262.9zM530.6 277.8L567.8 285.8L591.8 264.2zM392.8 276.6L427.1 284.6L461 262.9zM606.6 294.2L666.7 279.1L628.5 271.5zM462.9 293L530.6 277.8L495.1 270.2zM567.8 285.8L606.6 294.2L628.5 271.5zM427.1 284.6L462.9 293L495.1 270.2zM500.5 301.8L567.8 285.8L530.6 277.8zM606.6 294.2L647.2 303L666.7 279.1zM462.9 293L500.5 301.8L530.6 277.8zM539.9 311L606.6 294.2L567.8 285.8zM500.5 301.8L539.9 311L567.8 285.8zM581.2 320.6L647.2 303L606.6 294.2zM539.9 311L581.2 320.6L606.6 294.2zM581.2 320.6L624.6 330.8L647.2 303z" fill="#710077" stroke="#710077" stroke-width="0.7"/>
<path d="M427.1 284.6L461 262.9M461 262.9L490.6 243.9M490.6 243.9L516.5 227.3M500.5 301.8L530.6 277.8M530.6 277.8L556.7 257.1M556.7 257.1L579.5 239M581.2 320.6L606.6 294.2M606.6 294.2L628.5 271.5M628.5 271.5L647.5 251.7" fill="none" stroke="#b44db4" stroke-opacity="0.9" stroke-width="1.1"/>
<path d="M438 257.9L647.2 303M468.6 239.5L666.7 279.1" fill="none" stroke="#e48de4" stroke-width="1.25" stroke-dasharray="2.6 2.4"/>
<defs><linearGradient id="g129" gradientUnits="userSpaceOnUse" x1="260.1" y1="179.4" x2="262.8" y2="165.1"><stop offset="0" stop-color="#710077"/><stop offset="0.208" stop-color="#9200a5"/><stop offset="0.483" stop-color="#7800fa"/><stop offset="0.725" stop-color="#0000ff"/><stop offset="1" stop-color="#0078ff"/></linearGradient><linearGradient id="g130" gradientUnits="userSpaceOnUse" x1="282.1" y1="183.5" x2="288.7" y2="148.7"><stop offset="0" stop-color="#710077"/><stop offset="0.13" stop-color="#9200a5"/><stop offset="0.301" stop-color="#7800fa"/><stop offset="0.451" stop-color="#0000ff"/><stop offset="0.658" stop-color="#0091ff"/><stop offset="0.819" stop-color="#00f5f5"/><stop offset="0.907" stop-color="#00ee82"/><stop offset="1" stop-color="#07ec19"/></linearGradient><linearGradient id="g131" gradientUnits="userSpaceOnUse" x1="260.1" y1="179.4" x2="259.1" y2="134.5"><stop offset="0" stop-color="#710077"/><stop offset="0.125" stop-color="#9200a5"/><stop offset="0.29" stop-color="#7800fa"/><stop offset="0.435" stop-color="#0000ff"/><stop offset="0.635" stop-color="#0091ff"/><stop offset="0.79" stop-color="#00f5f5"/><stop offset="0.875" stop-color="#00ee82"/><stop offset="0.98" stop-color="#08ec08"/><stop offset="1" stop-color="#12ec07"/></linearGradient><linearGradient id="g132" gradientUnits="userSpaceOnUse" x1="304.9" y1="187.8" x2="308.2" y2="169.9"><stop offset="0" stop-color="#710077"/><stop offset="0.192" stop-color="#9200a5"/><stop offset="0.446" stop-color="#7800fa"/><stop offset="0.669" stop-color="#0000ff"/><stop offset="0.977" stop-color="#0091ff"/><stop offset="1" stop-color="#009bfe"/></linearGradient><linearGradient id="g133" gradientUnits="userSpaceOnUse" x1="260.1" y1="179.4" x2="267" y2="143.4"><stop offset="0" stop-color="#710077"/><stop offset="0.125" stop-color="#9200a5"/><stop offset="0.29" stop-color="#7800fa"/><stop offset="0.435" stop-color="#0000ff"/><stop offset="0.635" stop-color="#0091ff"/><stop offset="0.79" stop-color="#00f5f5"/><stop offset="0.875" stop-color="#00ee82"/><stop offset="0.98" stop-color="#08ec08"/><stop offset="1" stop-color="#12ec07"/></linearGradient><linearGradient id="g134" gradientUnits="userSpaceOnUse" x1="304.9" y1="187.8" x2="305" y2="163.1"><stop offset="0" stop-color="#710077"/><stop offset="0.192" stop-color="#9200a5"/><stop offset="0.446" stop-color="#7800fa"/><stop offset="0.669" stop-color="#0000ff"/><stop offset="0.977" stop-color="#0091ff"/><stop offset="1" stop-color="#009bfe"/></linearGradient><linearGradient id="g135" gradientUnits="userSpaceOnUse" x1="282.1" y1="183.5" x2="291.1" y2="170.1"><stop offset="0" stop-color="#710077"/><stop offset="0.13" stop-color="#9200a5"/><stop offset="0.301" stop-color="#7800fa"/><stop offset="0.451" stop-color="#0000ff"/><stop offset="0.658" stop-color="#0091ff"/><stop offset="0.819" stop-color="#00f5f5"/><stop offset="0.907" stop-color="#00ee82"/><stop offset="1" stop-color="#07ec19"/></linearGradient><linearGradient id="g136" gradientUnits="userSpaceOnUse" x1="202.3" y1="153.8" x2="200.2" y2="138.4"><stop offset="0" stop-color="#0078ff"/><stop offset="0.087" stop-color="#0091ff"/><stop offset="0.475" stop-color="#00f5f5"/><stop offset="0.688" stop-color="#00ee82"/><stop offset="0.95" stop-color="#08ec08"/><stop offset="1" stop-color="#12ec07"/></linearGradient><linearGradient id="g137" gradientUnits="userSpaceOnUse" x1="328.5" y1="178.5" x2="328" y2="148.9"><stop offset="0" stop-color="#7e00e5"/><stop offset="0.057" stop-color="#7800fa"/><stop offset="0.264" stop-color="#0000ff"/><stop offset="0.55" stop-color="#0091ff"/><stop offset="0.771" stop-color="#00f5f5"/><stop offset="0.893" stop-color="#00ee82"/><stop offset="1" stop-color="#06ed2b"/></linearGradient><linearGradient id="g138" gradientUnits="userSpaceOnUse" x1="328.5" y1="178.5" x2="327.8" y2="148.7"><stop offset="0" stop-color="#7e00e5"/><stop offset="0.057" stop-color="#7800fa"/><stop offset="0.264" stop-color="#0000ff"/><stop offset="0.55" stop-color="#0091ff"/><stop offset="0.771" stop-color="#00f5f5"/><stop offset="0.893" stop-color="#00ee82"/><stop offset="1" stop-color="#06ed2b"/></linearGradient><linearGradient id="g139" gradientUnits="userSpaceOnUse" x1="247.1" y1="140.9" x2="221.9" y2="162.6"><stop offset="0" stop-color="#07ec19"/><stop offset="0.176" stop-color="#08ec08"/><stop offset="1" stop-color="#2ced05"/></linearGradient><linearGradient id="g140" gradientUnits="userSpaceOnUse" x1="161.4" y1="148.8" x2="161.2" y2="148"><stop offset="0" stop-color="#00ef90"/><stop offset="0.062" stop-color="#00ee82"/><stop offset="0.719" stop-color="#08ec08"/><stop offset="1" stop-color="#1fed06"/></linearGradient><linearGradient id="g141" gradientUnits="userSpaceOnUse" x1="353.3" y1="163.2" x2="359.9" y2="80.5"><stop offset="0" stop-color="#0078ff"/><stop offset="0.022" stop-color="#0091ff"/><stop offset="0.119" stop-color="#00f5f5"/><stop offset="0.172" stop-color="#00ee82"/><stop offset="0.238" stop-color="#08ec08"/><stop offset="0.375" stop-color="#78f000"/><stop offset="0.544" stop-color="#fafa00"/><stop offset="0.641" stop-color="#ffbe00"/><stop offset="0.738" stop-color="#ff6400"/><stop offset="0.834" stop-color="#ff0c00"/><stop offset="0.906" stop-color="#ff0000"/><stop offset="1" stop-color="#fe0000"/></linearGradient><linearGradient id="g142" gradientUnits="userSpaceOnUse" x1="224.2" y1="135.3" x2="225" y2="144.3"><stop offset="0" stop-color="#12ec07"/><stop offset="1" stop-color="#2ced05"/></linearGradient><linearGradient id="g143" gradientUnits="userSpaceOnUse" x1="270.7" y1="162.9" x2="252.9" y2="136.9"><stop offset="0" stop-color="#009bfe"/><stop offset="0.444" stop-color="#00f5f5"/><stop offset="0.714" stop-color="#00ee82"/><stop offset="1" stop-color="#07ec19"/></linearGradient><linearGradient id="g144" gradientUnits="userSpaceOnUse" x1="353.3" y1="163.2" x2="344.5" y2="75.2"><stop offset="0" stop-color="#0078ff"/><stop offset="0.022" stop-color="#0091ff"/><stop offset="0.119" stop-color="#00f5f5"/><stop offset="0.172" stop-color="#00ee82"/><stop offset="0.238" stop-color="#08ec08"/><stop offset="0.375" stop-color="#78f000"/><stop offset="0.544" stop-color="#fafa00"/><stop offset="0.641" stop-color="#ffbe00"/><stop offset="0.738" stop-color="#ff6400"/><stop offset="0.834" stop-color="#ff0c00"/><stop offset="0.906" stop-color="#ff0000"/><stop offset="1" stop-color="#fe0000"/></linearGradient><linearGradient id="g145" gradientUnits="userSpaceOnUse" x1="270.7" y1="162.9" x2="269.4" y2="152.8"><stop offset="0" stop-color="#009bfe"/><stop offset="0.467" stop-color="#00f5f5"/><stop offset="0.75" stop-color="#00ee82"/><stop offset="1" stop-color="#06ed2b"/></linearGradient><linearGradient id="g146" gradientUnits="userSpaceOnUse" x1="231.9" y1="159.2" x2="222" y2="138.8"><stop offset="0" stop-color="#02ee65"/><stop offset="0.533" stop-color="#08ec08"/><stop offset="1" stop-color="#2ced05"/></linearGradient><linearGradient id="g147" gradientUnits="userSpaceOnUse" x1="140.5" y1="217.6" x2="171.2" y2="138.4"><stop offset="0" stop-color="#710077"/><stop offset="0.122" stop-color="#9200a5"/><stop offset="0.283" stop-color="#7800fa"/><stop offset="0.424" stop-color="#0000ff"/><stop offset="0.62" stop-color="#0091ff"/><stop offset="0.771" stop-color="#00f5f5"/><stop offset="0.854" stop-color="#00ee82"/><stop offset="0.956" stop-color="#08ec08"/><stop offset="1" stop-color="#1fed06"/></linearGradient><linearGradient id="g148" gradientUnits="userSpaceOnUse" x1="379.1" y1="145.2" x2="391" y2="62.3"><stop offset="0" stop-color="#0bec08"/><stop offset="0.137" stop-color="#78f000"/><stop offset="0.308" stop-color="#fafa00"/><stop offset="0.406" stop-color="#ffbe00"/><stop offset="0.505" stop-color="#ff6400"/><stop offset="0.603" stop-color="#ff0c00"/><stop offset="0.676" stop-color="#ff0000"/><stop offset="0.867" stop-color="#fc0000"/><stop offset="0.978" stop-color="#e40000"/><stop offset="1" stop-color="#da0000"/></linearGradient><linearGradient id="g149" gradientUnits="userSpaceOnUse" x1="117.5" y1="212.2" x2="133.8" y2="142.4"><stop offset="0" stop-color="#710077"/><stop offset="0.145" stop-color="#9200a5"/><stop offset="0.335" stop-color="#7800fa"/><stop offset="0.503" stop-color="#0000ff"/><stop offset="0.734" stop-color="#0091ff"/><stop offset="0.913" stop-color="#00f5f5"/><stop offset="1" stop-color="#00ef90"/></linearGradient><linearGradient id="g150" gradientUnits="userSpaceOnUse" x1="379.1" y1="145.2" x2="373.8" y2="32.1"><stop offset="0" stop-color="#0bec08"/><stop offset="0.11" stop-color="#78f000"/><stop offset="0.248" stop-color="#fafa00"/><stop offset="0.327" stop-color="#ffbe00"/><stop offset="0.407" stop-color="#ff6400"/><stop offset="0.486" stop-color="#ff0c00"/><stop offset="0.545" stop-color="#ff0000"/><stop offset="0.698" stop-color="#fc0000"/><stop offset="0.788" stop-color="#e40000"/><stop offset="0.887" stop-color="#ac0000"/><stop offset="0.997" stop-color="#700000"/><stop offset="1" stop-color="#700000"/></linearGradient><linearGradient id="g151" gradientUnits="userSpaceOnUse" x1="431.6" y1="175.5" x2="445.3" y2="150.3"><stop offset="0" stop-color="#007fff"/><stop offset="0.026" stop-color="#0091ff"/><stop offset="0.188" stop-color="#00f5f5"/><stop offset="0.277" stop-color="#00ee82"/><stop offset="0.387" stop-color="#08ec08"/><stop offset="0.618" stop-color="#78f000"/><stop offset="0.901" stop-color="#fafa00"/><stop offset="1" stop-color="#fdd500"/></linearGradient><linearGradient id="g152" gradientUnits="userSpaceOnUse" x1="164.3" y1="223.1" x2="180.2" y2="140.6"><stop offset="0" stop-color="#710077"/><stop offset="0.119" stop-color="#9200a5"/><stop offset="0.276" stop-color="#7800fa"/><stop offset="0.414" stop-color="#0000ff"/><stop offset="0.605" stop-color="#0091ff"/><stop offset="0.752" stop-color="#00f5f5"/><stop offset="0.833" stop-color="#00ee82"/><stop offset="0.933" stop-color="#08ec08"/><stop offset="1" stop-color="#2ced05"/></linearGradient><linearGradient id="g153" gradientUnits="userSpaceOnUse" x1="295.2" y1="149.5" x2="285.8" y2="82.6"><stop offset="0" stop-color="#06ed2b"/><stop offset="0.024" stop-color="#08ec08"/><stop offset="0.2" stop-color="#78f000"/><stop offset="0.416" stop-color="#fafa00"/><stop offset="0.54" stop-color="#ffbe00"/><stop offset="0.664" stop-color="#ff6400"/><stop offset="0.788" stop-color="#ff0c00"/><stop offset="0.88" stop-color="#ff0000"/><stop offset="1" stop-color="#fe0000"/></linearGradient><linearGradient id="g154" gradientUnits="userSpaceOnUse" x1="231.9" y1="159.2" x2="227.7" y2="121.3"><stop offset="0" stop-color="#02ee65"/><stop offset="0.11" stop-color="#08ec08"/><stop offset="0.414" stop-color="#78f000"/><stop offset="0.786" stop-color="#fafa00"/><stop offset="1" stop-color="#ffbe00"/></linearGradient><linearGradient id="g155" gradientUnits="userSpaceOnUse" x1="379.1" y1="145.2" x2="402.8" y2="46"><stop offset="0" stop-color="#0bec08"/><stop offset="0.11" stop-color="#78f000"/><stop offset="0.248" stop-color="#fafa00"/><stop offset="0.327" stop-color="#ffbe00"/><stop offset="0.407" stop-color="#ff6400"/><stop offset="0.486" stop-color="#ff0c00"/><stop offset="0.545" stop-color="#ff0000"/><stop offset="0.698" stop-color="#fc0000"/><stop offset="0.788" stop-color="#e40000"/><stop offset="0.887" stop-color="#ac0000"/><stop offset="0.997" stop-color="#700000"/><stop offset="1" stop-color="#700000"/></linearGradient><linearGradient id="g156" gradientUnits="userSpaceOnUse" x1="459.5" y1="182.2" x2="459.3" y2="183.1"><stop offset="0" stop-color="#0066ff"/><stop offset="0.2" stop-color="#0091ff"/><stop offset="0.717" stop-color="#00f5f5"/><stop offset="1" stop-color="#00ee82"/></linearGradient><linearGradient id="g157" gradientUnits="userSpaceOnUse" x1="140.5" y1="217.6" x2="159.2" y2="137.6"><stop offset="0" stop-color="#710077"/><stop offset="0.122" stop-color="#9200a5"/><stop offset="0.283" stop-color="#7800fa"/><stop offset="0.424" stop-color="#0000ff"/><stop offset="0.62" stop-color="#0091ff"/><stop offset="0.771" stop-color="#00f5f5"/><stop offset="0.854" stop-color="#00ee82"/><stop offset="0.956" stop-color="#08ec08"/><stop offset="1" stop-color="#1fed06"/></linearGradient><linearGradient id="g158" gradientUnits="userSpaceOnUse" x1="164.3" y1="223.1" x2="170.3" y2="143.1"><stop offset="0" stop-color="#710077"/><stop offset="0.119" stop-color="#9200a5"/><stop offset="0.276" stop-color="#7800fa"/><stop offset="0.414" stop-color="#0000ff"/><stop offset="0.605" stop-color="#0091ff"/><stop offset="0.752" stop-color="#00f5f5"/><stop offset="0.833" stop-color="#00ee82"/><stop offset="0.933" stop-color="#08ec08"/><stop offset="1" stop-color="#2ced05"/></linearGradient><linearGradient id="g159" gradientUnits="userSpaceOnUse" x1="405.4" y1="147.4" x2="428.8" y2="130"><stop offset="0" stop-color="#1aed07"/><stop offset="0.12" stop-color="#78f000"/><stop offset="0.294" stop-color="#fafa00"/><stop offset="0.395" stop-color="#ffbe00"/><stop offset="0.495" stop-color="#ff6400"/><stop offset="0.595" stop-color="#ff0c00"/><stop offset="0.67" stop-color="#ff0000"/><stop offset="0.864" stop-color="#fc0000"/><stop offset="0.977" stop-color="#e40000"/><stop offset="1" stop-color="#da0000"/></linearGradient><linearGradient id="g160" gradientUnits="userSpaceOnUse" x1="459.4" y1="237.7" x2="435.2" y2="196.3"><stop offset="0" stop-color="#710077"/><stop offset="0.217" stop-color="#9200a5"/><stop offset="0.504" stop-color="#7800fa"/><stop offset="0.757" stop-color="#0000ff"/><stop offset="1" stop-color="#0066ff"/></linearGradient><linearGradient id="g161" gradientUnits="userSpaceOnUse" x1="431.6" y1="175.5" x2="430" y2="176.4"><stop offset="0" stop-color="#007fff"/><stop offset="0.026" stop-color="#0091ff"/><stop offset="0.188" stop-color="#00f5f5"/><stop offset="0.277" stop-color="#00ee82"/><stop offset="0.387" stop-color="#08ec08"/><stop offset="0.618" stop-color="#78f000"/><stop offset="0.901" stop-color="#fafa00"/><stop offset="1" stop-color="#fdd500"/></linearGradient><linearGradient id="g162" gradientUnits="userSpaceOnUse" x1="321.7" y1="77.5" x2="318.9" y2="35.3"><stop offset="0" stop-color="#fe0000"/><stop offset="0.203" stop-color="#fc0000"/><stop offset="0.439" stop-color="#e40000"/><stop offset="0.703" stop-color="#ac0000"/><stop offset="0.993" stop-color="#700000"/><stop offset="1" stop-color="#700000"/></linearGradient><linearGradient id="g163" gradientUnits="userSpaceOnUse" x1="164.3" y1="223.1" x2="182" y2="147.5"><stop offset="0" stop-color="#710077"/><stop offset="0.139" stop-color="#9200a5"/><stop offset="0.322" stop-color="#7800fa"/><stop offset="0.483" stop-color="#0000ff"/><stop offset="0.706" stop-color="#0091ff"/><stop offset="0.878" stop-color="#00f5f5"/><stop offset="0.972" stop-color="#00ee82"/><stop offset="1" stop-color="#02ee65"/></linearGradient><linearGradient id="g164" gradientUnits="userSpaceOnUse" x1="257.2" y1="118" x2="251.1" y2="55.4"><stop offset="0" stop-color="#ffbe00"/><stop offset="0.146" stop-color="#ff6400"/><stop offset="0.292" stop-color="#ff0c00"/><stop offset="0.401" stop-color="#ff0000"/><stop offset="0.684" stop-color="#fc0000"/><stop offset="0.849" stop-color="#e40000"/><stop offset="1" stop-color="#b60000"/></linearGradient><linearGradient id="g165" gradientUnits="userSpaceOnUse" x1="459.4" y1="237.7" x2="418" y2="187.5"><stop offset="0" stop-color="#710077"/><stop offset="0.143" stop-color="#9200a5"/><stop offset="0.331" stop-color="#7800fa"/><stop offset="0.497" stop-color="#0000ff"/><stop offset="0.726" stop-color="#0091ff"/><stop offset="0.903" stop-color="#00f5f5"/><stop offset="1" stop-color="#00ee82"/></linearGradient><linearGradient id="g166" gradientUnits="userSpaceOnUse" x1="214.5" y1="205.8" x2="249.7" y2="208.7"><stop offset="0" stop-color="#000bff"/><stop offset="0.157" stop-color="#0091ff"/><stop offset="0.289" stop-color="#00f5f5"/><stop offset="0.362" stop-color="#00ee82"/><stop offset="0.451" stop-color="#08ec08"/><stop offset="0.638" stop-color="#78f000"/><stop offset="0.868" stop-color="#fafa00"/><stop offset="1" stop-color="#ffbe00"/></linearGradient><linearGradient id="g167" gradientUnits="userSpaceOnUse" x1="189.1" y1="228.9" x2="248.8" y2="208.5"><stop offset="0" stop-color="#710077"/><stop offset="0.139" stop-color="#9200a5"/><stop offset="0.322" stop-color="#7800fa"/><stop offset="0.483" stop-color="#0000ff"/><stop offset="0.706" stop-color="#0091ff"/><stop offset="0.878" stop-color="#00f5f5"/><stop offset="0.972" stop-color="#00ee82"/><stop offset="1" stop-color="#02ee65"/></linearGradient><linearGradient id="g168" gradientUnits="userSpaceOnUse" x1="376.8" y1="60.2" x2="369.4" y2="28.6"><stop offset="0" stop-color="#da0000"/><stop offset="0.421" stop-color="#ac0000"/><stop offset="0.987" stop-color="#700000"/><stop offset="1" stop-color="#700000"/></linearGradient><linearGradient id="g169" gradientUnits="userSpaceOnUse" x1="284.1" y1="52.2" x2="283.6" y2="50.1"><stop offset="0" stop-color="#b60000"/><stop offset="0.137" stop-color="#ac0000"/><stop offset="0.98" stop-color="#700000"/><stop offset="1" stop-color="#700000"/></linearGradient><linearGradient id="g170" gradientUnits="userSpaceOnUse" x1="403.6" y1="127.7" x2="381.6" y2="58.7"><stop offset="0" stop-color="#fdd500"/><stop offset="0.06" stop-color="#ffbe00"/><stop offset="0.216" stop-color="#ff6400"/><stop offset="0.372" stop-color="#ff0c00"/><stop offset="0.487" stop-color="#ff0000"/><stop offset="0.789" stop-color="#fc0000"/><stop offset="0.965" stop-color="#e40000"/><stop offset="1" stop-color="#da0000"/></linearGradient><linearGradient id="g171" gradientUnits="userSpaceOnUse" x1="241.3" y1="182.4" x2="303" y2="172.7"><stop offset="0" stop-color="#01ee76"/><stop offset="0.053" stop-color="#08ec08"/><stop offset="0.175" stop-color="#78f000"/><stop offset="0.325" stop-color="#fafa00"/><stop offset="0.411" stop-color="#ffbe00"/><stop offset="0.497" stop-color="#ff6400"/><stop offset="0.583" stop-color="#ff0c00"/><stop offset="0.647" stop-color="#ff0000"/><stop offset="0.814" stop-color="#fc0000"/><stop offset="0.911" stop-color="#e40000"/><stop offset="1" stop-color="#b60000"/></linearGradient><linearGradient id="g172" gradientUnits="userSpaceOnUse" x1="214.5" y1="205.8" x2="275" y2="132.7"><stop offset="0" stop-color="#000bff"/><stop offset="0.157" stop-color="#0091ff"/><stop offset="0.289" stop-color="#00f5f5"/><stop offset="0.362" stop-color="#00ee82"/><stop offset="0.451" stop-color="#08ec08"/><stop offset="0.638" stop-color="#78f000"/><stop offset="0.868" stop-color="#fafa00"/><stop offset="1" stop-color="#ffbe00"/></linearGradient><linearGradient id="g173" gradientUnits="userSpaceOnUse" x1="398.8" y1="190.2" x2="377.1" y2="139"><stop offset="0" stop-color="#00ee82"/><stop offset="0.152" stop-color="#08ec08"/><stop offset="0.471" stop-color="#78f000"/><stop offset="0.862" stop-color="#fafa00"/><stop offset="1" stop-color="#fdd500"/></linearGradient><linearGradient id="g174" gradientUnits="userSpaceOnUse" x1="341.1" y1="57.6" x2="339.9" y2="33.8"><stop offset="0" stop-color="#b60000"/><stop offset="0.137" stop-color="#ac0000"/><stop offset="0.98" stop-color="#700000"/><stop offset="1" stop-color="#700000"/></linearGradient><linearGradient id="g175" gradientUnits="userSpaceOnUse" x1="459.4" y1="237.7" x2="433.1" y2="175.7"><stop offset="0" stop-color="#710077"/><stop offset="0.143" stop-color="#9200a5"/><stop offset="0.331" stop-color="#7800fa"/><stop offset="0.497" stop-color="#0000ff"/><stop offset="0.726" stop-color="#0091ff"/><stop offset="0.903" stop-color="#00f5f5"/><stop offset="1" stop-color="#00ee82"/></linearGradient><linearGradient id="g176" gradientUnits="userSpaceOnUse" x1="369.5" y1="134.8" x2="353.8" y2="55.1"><stop offset="0" stop-color="#ffc200"/><stop offset="0.009" stop-color="#ffbe00"/><stop offset="0.154" stop-color="#ff6400"/><stop offset="0.299" stop-color="#ff0c00"/><stop offset="0.407" stop-color="#ff0000"/><stop offset="0.687" stop-color="#fc0000"/><stop offset="0.85" stop-color="#e40000"/><stop offset="1" stop-color="#b60000"/></linearGradient><linearGradient id="g177" gradientUnits="userSpaceOnUse" x1="398.8" y1="190.2" x2="379" y2="131.5"><stop offset="0" stop-color="#00ee82"/><stop offset="0.142" stop-color="#08ec08"/><stop offset="0.439" stop-color="#78f000"/><stop offset="0.804" stop-color="#fafa00"/><stop offset="1" stop-color="#ffc200"/></linearGradient><linearGradient id="g178" gradientUnits="userSpaceOnUse" x1="269.5" y1="184.3" x2="290.3" y2="40.4"><stop offset="0" stop-color="#05ed3c"/><stop offset="0.023" stop-color="#08ec08"/><stop offset="0.138" stop-color="#78f000"/><stop offset="0.279" stop-color="#fafa00"/><stop offset="0.36" stop-color="#ffbe00"/><stop offset="0.441" stop-color="#ff6400"/><stop offset="0.522" stop-color="#ff0c00"/><stop offset="0.582" stop-color="#ff0000"/><stop offset="0.739" stop-color="#fc0000"/><stop offset="0.83" stop-color="#e40000"/><stop offset="0.932" stop-color="#ac0000"/><stop offset="1" stop-color="#880000"/></linearGradient><linearGradient id="g179" gradientUnits="userSpaceOnUse" x1="241.3" y1="182.4" x2="268.9" y2="49"><stop offset="0" stop-color="#01ee76"/><stop offset="0.053" stop-color="#08ec08"/><stop offset="0.175" stop-color="#78f000"/><stop offset="0.325" stop-color="#fafa00"/><stop offset="0.411" stop-color="#ffbe00"/><stop offset="0.497" stop-color="#ff6400"/><stop offset="0.583" stop-color="#ff0c00"/><stop offset="0.647" stop-color="#ff0000"/><stop offset="0.814" stop-color="#fc0000"/><stop offset="0.911" stop-color="#e40000"/><stop offset="1" stop-color="#b60000"/></linearGradient><linearGradient id="g180" gradientUnits="userSpaceOnUse" x1="428.3" y1="255.8" x2="392.3" y2="194"><stop offset="0" stop-color="#710077"/><stop offset="0.143" stop-color="#9200a5"/><stop offset="0.331" stop-color="#7800fa"/><stop offset="0.497" stop-color="#0000ff"/><stop offset="0.726" stop-color="#0091ff"/><stop offset="0.903" stop-color="#00f5f5"/><stop offset="1" stop-color="#00ee82"/></linearGradient><linearGradient id="g181" gradientUnits="userSpaceOnUse" x1="269.5" y1="184.3" x2="277.6" y2="41.6"><stop offset="0" stop-color="#05ed3c"/><stop offset="0.023" stop-color="#08ec08"/><stop offset="0.138" stop-color="#78f000"/><stop offset="0.279" stop-color="#fafa00"/><stop offset="0.36" stop-color="#ffbe00"/><stop offset="0.441" stop-color="#ff6400"/><stop offset="0.522" stop-color="#ff0c00"/><stop offset="0.582" stop-color="#ff0000"/><stop offset="0.739" stop-color="#fc0000"/><stop offset="0.83" stop-color="#e40000"/><stop offset="0.932" stop-color="#ac0000"/><stop offset="1" stop-color="#880000"/></linearGradient><linearGradient id="g182" gradientUnits="userSpaceOnUse" x1="298.9" y1="186.4" x2="290.1" y2="61.2"><stop offset="0" stop-color="#0bec08"/><stop offset="0.126" stop-color="#78f000"/><stop offset="0.285" stop-color="#fafa00"/><stop offset="0.376" stop-color="#ffbe00"/><stop offset="0.468" stop-color="#ff6400"/><stop offset="0.559" stop-color="#ff0c00"/><stop offset="0.626" stop-color="#ff0000"/><stop offset="0.803" stop-color="#fc0000"/><stop offset="0.906" stop-color="#e40000"/><stop offset="1" stop-color="#b60000"/></linearGradient><linearGradient id="g183" gradientUnits="userSpaceOnUse" x1="269.5" y1="184.3" x2="297.6" y2="48.6"><stop offset="0" stop-color="#05ed3c"/><stop offset="0.026" stop-color="#08ec08"/><stop offset="0.151" stop-color="#78f000"/><stop offset="0.306" stop-color="#fafa00"/><stop offset="0.394" stop-color="#ffbe00"/><stop offset="0.483" stop-color="#ff6400"/><stop offset="0.571" stop-color="#ff0c00"/><stop offset="0.637" stop-color="#ff0000"/><stop offset="0.809" stop-color="#fc0000"/><stop offset="0.909" stop-color="#e40000"/><stop offset="1" stop-color="#b60000"/></linearGradient><linearGradient id="g184" gradientUnits="userSpaceOnUse" x1="329.1" y1="219.5" x2="320.6" y2="140"><stop offset="0" stop-color="#0078ff"/><stop offset="0.034" stop-color="#0091ff"/><stop offset="0.187" stop-color="#00f5f5"/><stop offset="0.271" stop-color="#00ee82"/><stop offset="0.374" stop-color="#08ec08"/><stop offset="0.591" stop-color="#78f000"/><stop offset="0.857" stop-color="#fafa00"/><stop offset="1" stop-color="#ffc200"/></linearGradient><linearGradient id="g185" gradientUnits="userSpaceOnUse" x1="329.1" y1="219.5" x2="331" y2="134"><stop offset="0" stop-color="#0078ff"/><stop offset="0.034" stop-color="#0091ff"/><stop offset="0.187" stop-color="#00f5f5"/><stop offset="0.271" stop-color="#00ee82"/><stop offset="0.374" stop-color="#08ec08"/><stop offset="0.591" stop-color="#78f000"/><stop offset="0.857" stop-color="#fafa00"/><stop offset="1" stop-color="#ffc200"/></linearGradient><linearGradient id="g186" gradientUnits="userSpaceOnUse" x1="428.3" y1="255.8" x2="406.4" y2="187.8"><stop offset="0" stop-color="#710077"/><stop offset="0.143" stop-color="#9200a5"/><stop offset="0.331" stop-color="#7800fa"/><stop offset="0.497" stop-color="#0000ff"/><stop offset="0.726" stop-color="#0091ff"/><stop offset="0.903" stop-color="#00f5f5"/><stop offset="1" stop-color="#00ee82"/></linearGradient><linearGradient id="g187" gradientUnits="userSpaceOnUse" x1="329.1" y1="219.5" x2="337.7" y2="177.7"><stop offset="0" stop-color="#0078ff"/><stop offset="0.127" stop-color="#0091ff"/><stop offset="0.691" stop-color="#00f5f5"/><stop offset="1" stop-color="#00ee82"/></linearGradient><linearGradient id="g188" gradientUnits="userSpaceOnUse" x1="392.8" y1="276.6" x2="362.7" y2="225"><stop offset="0" stop-color="#710077"/><stop offset="0.208" stop-color="#9200a5"/><stop offset="0.483" stop-color="#7800fa"/><stop offset="0.725" stop-color="#0000ff"/><stop offset="1" stop-color="#0078ff"/></linearGradient></defs>
<g stroke-width="0.7" stroke-linejoin="round"><path d="M202.3 153.8L260.1 179.4L238.8 175.4z" fill="url(#g129)" stroke="url(#g129)"/><path class="k" d="M203.3 154.2L202.9 154.1"/><path d="M247.1 140.9L282.1 183.5L260.1 179.4z" fill="url(#g130)" stroke="url(#g130)"/><path class="k" d="M261.3 158.1L252.4 156.6M250.2 144.7L248.2 144.3"/><path d="M202.3 153.8L224.2 135.3L260.1 179.4z" fill="url(#g131)" stroke="url(#g131)"/><path class="k" d="M239.5 154.1L203.3 154.2M217.8 140.7L228.5 140.6"/><path d="M270.7 162.9L304.9 187.8L282.1 183.5z" fill="url(#g132)" stroke="url(#g132)"/><path class="k" d="M274 165.3L271.8 164.9"/><path d="M224.2 135.3L247.1 140.9L260.1 179.4z" fill="url(#g133)" stroke="url(#g133)"/><path class="k" d="M252.4 156.6L239.5 154.1M248.2 144.3L228.5 140.6"/><path d="M270.7 162.9L328.5 178.5L304.9 187.8z" fill="url(#g134)" stroke="url(#g134)"/><path class="k" d="M279.7 165.3L274 165.3"/><path d="M247.1 140.9L270.7 162.9L282.1 183.5z" fill="url(#g135)" stroke="url(#g135)"/><path class="k" d="M271.8 164.9L261.3 158.1M253 146.4L250.2 144.7"/><path d="M161.4 148.8L224.2 135.3L202.3 153.8z" fill="url(#g136)" stroke="url(#g136)"/><path class="k" d="M171 146.7L217.8 140.7"/><path d="M295.2 149.5L353.3 163.2L328.5 178.5z" fill="url(#g137)" stroke="url(#g137)"/><path class="k" d="M352.5 163.6L312.9 164.9M306.4 152.2L298.5 152.4"/><path d="M270.7 162.9L295.2 149.5L328.5 178.5z" fill="url(#g138)" stroke="url(#g138)"/><path class="k" d="M312.9 164.9L279.7 165.3M289.8 152.5L298.5 152.4"/><path d="M207.5 145.9L247.1 140.9L224.2 135.3z" fill="url(#g139)" stroke="url(#g139)"/><path d="M161.4 148.8L183.9 143.4L224.2 135.3z" fill="url(#g140)" stroke="url(#g140)"/><path class="k" d="M164.2 148.1L171 146.7"/><path d="M321.7 77.5L379.1 145.2L353.3 163.2z" fill="url(#g141)" stroke="url(#g141)"/><path class="k" d="M372.3 150L348 148.9M370.3 134.9L342.4 133.7M356.7 118.8L336.6 118M342.7 102.3L330.7 101.9M328.4 85.4L324.5 85.2"/><path d="M183.9 143.4L207.5 145.9L224.2 135.3z" fill="url(#g142)" stroke="url(#g142)"/><path d="M231.9 159.2L270.7 162.9L247.1 140.9z" fill="url(#g143)" stroke="url(#g143)"/><path class="k" d="M234.4 159.4L253 146.4"/><path d="M295.2 149.5L321.7 77.5L353.3 163.2z" fill="url(#g144)" stroke="url(#g144)"/><path class="k" d="M348 148.9L306.4 152.2M300 136.6L342.4 133.7M306.1 119.9L336.6 118M312.4 102.8L330.7 101.9M318.7 85.5L324.5 85.2"/><path d="M231.9 159.2L295.2 149.5L270.7 162.9z" fill="url(#g145)" stroke="url(#g145)"/><path class="k" d="M289.8 152.5L234.4 159.4"/><path d="M207.5 145.9L231.9 159.2L247.1 140.9z" fill="url(#g146)" stroke="url(#g146)"/><path d="M140.5 217.6L183.9 143.4L161.4 148.8z" fill="url(#g147)" stroke="url(#g147)"/><path class="k" d="M166 174L155 169.7M178.2 153.1L164.2 148.1"/><path d="M376.8 60.2L405.4 147.4L379.1 145.2z" fill="url(#g148)" stroke="url(#g148)"/><path class="k" d="M402.6 138.7L378.8 135.6M397.4 122.9L378.4 120.5M392 106.5L378 104.9M386.5 89.7L377.6 88.8M380.8 72.3L377.1 72"/><path d="M117.5 212.2L140.5 217.6L161.4 148.8z" fill="url(#g149)" stroke="url(#g149)"/><path class="k" d="M155 169.7L147.9 168.3"/><path d="M321.7 77.5L349.4 33.3L379.1 145.2z" fill="url(#g150)" stroke="url(#g150)"/><path class="k" d="M376.3 134.9L370.3 134.9M372.1 118.9L356.7 118.8M367.8 102.5L342.7 102.3M363.3 85.7L328.4 85.4M327.5 68.1L358.7 68.5M338.5 50.6L354 50.8"/><path d="M403.6 127.7L431.6 175.5L405.4 147.4z" fill="url(#g151)" stroke="url(#g151)"/><path class="k" d="M424 162.4L413.8 156.3M415.4 147.8L404.9 141.8M406.5 132.5L404 131.1"/><path d="M164.3 223.1L207.5 145.9L183.9 143.4z" fill="url(#g152)" stroke="url(#g152)"/><path class="k" d="M189.1 178.8L175.9 176M201 157.5L181.4 153.7"/><path d="M257.2 118L321.7 77.5L295.2 149.5z" fill="url(#g153)" stroke="url(#g153)"/><path class="k" d="M300 136.6L282.9 139.3M306.1 119.9L266.1 125.4M273.9 107.5L312.4 102.8M306.9 86.8L318.7 85.5"/><path d="M231.9 159.2L257.2 118L295.2 149.5z" fill="url(#g154)" stroke="url(#g154)"/><path class="k" d="M241.5 143.6L282.9 139.3M251.8 126.7L266.1 125.4"/><path d="M349.4 33.3L376.8 60.2L379.1 145.2z" fill="url(#g155)" stroke="url(#g155)"/><path class="k" d="M378.8 135.6L376.3 134.9M378.4 120.5L372.1 118.9M378 104.9L367.8 102.5M377.6 88.8L363.3 85.7M377.1 72L358.7 68.5M369.9 53.4L354 50.8"/><path d="M431.5 176.3L459.5 182.2L431.6 175.5z" fill="url(#g156)" stroke="url(#g156)"/><path class="k" d="M458.2 181.9L447.5 179.3"/><path d="M140.5 217.6L164.3 223.1L183.9 143.4z" fill="url(#g157)" stroke="url(#g157)"/><path class="k" d="M175.9 176L166 174M181.4 153.7L178.2 153.1"/><path d="M164.3 223.1L231.9 159.2L207.5 145.9z" fill="url(#g158)" stroke="url(#g158)"/><path class="k" d="M209.1 180.8L189.1 178.8M230.8 160.2L201 157.5"/><path d="M376.8 60.2L403.6 127.7L405.4 147.4z" fill="url(#g159)" stroke="url(#g159)"/><path class="k" d="M404.9 141.8L402.6 138.7M404 131.1L397.4 122.9M398.1 113.7L392 106.5M390.1 93.7L386.5 89.7M382.2 73.7L380.8 72.3"/><path d="M459.4 237.7L486.7 221.7L459.5 182.2z" fill="url(#g160)" stroke="url(#g160)"/><path d="M403.6 127.7L431.5 176.3L431.6 175.5z" fill="url(#g161)" stroke="url(#g161)"/><path class="k" d="M431.1 175.6L424 162.4M419.1 154.7L415.4 147.8M407.3 134L406.5 132.5"/><path d="M284.1 52.2L349.4 33.3L321.7 77.5z" fill="url(#g162)" stroke="url(#g162)"/><path class="k" d="M327.5 68.1L309.8 69.5M338.5 50.6L286.6 53.9"/><path d="M164.3 223.1L189.1 228.9L231.9 159.2z" fill="url(#g163)" stroke="url(#g163)"/><path class="k" d="M217.6 182.4L209.1 180.8M231.3 160.3L230.8 160.2"/><path d="M257.2 118L284.1 52.2L321.7 77.5z" fill="url(#g164)" stroke="url(#g164)"/><path class="k" d="M260.8 109.3L273.9 107.5M268.1 91.2L306.9 86.8M275.6 72.9L309.8 69.5M283.3 54.1L286.6 53.9"/><path d="M431.5 176.3L459.4 237.7L459.5 182.2z" fill="url(#g165)" stroke="url(#g165)"/><path class="k" d="M440.6 196.2L458.2 181.9"/><path d="M214.5 205.8L257.2 118L231.9 159.2z" fill="url(#g166)" stroke="url(#g166)"/><path class="k" d="M219.8 194.9L220.2 190.5M230.8 172.3L231.4 160.6M241.5 150.3L241.5 143.6M252 128.8L251.8 126.7"/><path d="M189.1 228.9L214.5 205.8L231.9 159.2z" fill="url(#g167)" stroke="url(#g167)"/><path class="k" d="M220.2 190.5L217.6 182.4M231.4 160.6L231.3 160.3"/><path d="M341.1 57.6L376.8 60.2L349.4 33.3z" fill="url(#g168)" stroke="url(#g168)"/><path class="k" d="M350.1 58.2L369.9 53.4"/><path d="M284.1 52.2L312.2 43.6L349.4 33.3z" fill="url(#g169)" stroke="url(#g169)"/><path d="M369.5 134.8L403.6 127.7L376.8 60.2z" fill="url(#g170)" stroke="url(#g170)"/><path class="k" d="M398.1 113.7L370.7 121.8M390.1 93.7L373.1 98M382.2 73.7L375.3 75.1"/><path d="M241.3 182.4L284.1 52.2L257.2 118z" fill="url(#g171)" stroke="url(#g171)"/><path class="k" d="M241.3 182.4L241.3 182.4M248.6 160.4L247.9 155.6M255.7 138.6L254.2 130.3M262.8 117.1L260.8 109.3M269.7 95.9L268.1 91.2M276.6 75L275.6 72.9M283.4 54.3L283.3 54.1"/><path d="M214.5 205.8L241.3 182.4L257.2 118z" fill="url(#g172)" stroke="url(#g172)"/><path class="k" d="M223 198.4L219.8 194.9M241.3 182.4L230.8 172.3M247.9 155.6L241.5 150.3M254.2 130.3L252 128.8"/><path d="M398.8 190.2L431.5 176.3L403.6 127.7z" fill="url(#g173)" stroke="url(#g173)"/><path class="k" d="M431.1 175.6L398.9 189.2M419.1 154.7L401 161.4M407.3 134L403.1 135.3"/><path d="M312.2 43.6L341.1 57.6L349.4 33.3z" fill="url(#g174)" stroke="url(#g174)"/><path d="M398.8 190.2L459.4 237.7L431.5 176.3z" fill="url(#g175)" stroke="url(#g175)"/><path class="k" d="M419.3 206.3L440.6 196.2"/><path d="M341.1 57.6L369.5 134.8L376.8 60.2z" fill="url(#g176)" stroke="url(#g176)"/><path class="k" d="M365.4 123.5L370.7 121.8M357.5 102.2L373.1 98M349.7 80.9L375.3 75.1M341.9 59.7L350.1 58.2"/><path d="M369.5 134.8L398.8 190.2L403.6 127.7z" fill="url(#g177)" stroke="url(#g177)"/><path class="k" d="M398.4 189.5L398.9 189.2M386.7 167.2L401 161.4M375 145.2L403.1 135.3"/><path d="M269.5 184.3L312.2 43.6L284.1 52.2z" fill="url(#g178)" stroke="url(#g178)"/><path class="k" d="M275.1 165.7L271.7 164.9M281.9 143.6L274.2 141.9M288.5 121.7L276.7 119.3M295.1 100L279.1 97.2M301.5 78.6L281.5 75.6M308 57.4L283.8 54.3"/><path d="M241.3 182.4L269.5 184.3L284.1 52.2z" fill="url(#g179)" stroke="url(#g179)"/><path class="k" d="M241.3 182.4L241.3 182.4M271.7 164.9L248.6 160.4M274.2 141.9L255.7 138.6M276.7 119.3L262.8 117.1M279.1 97.2L269.7 95.9M281.5 75.6L276.6 75M283.8 54.3L283.4 54.3"/><path d="M398.8 190.2L428.3 255.8L459.4 237.7z" fill="url(#g180)" stroke="url(#g180)"/><path class="k" d="M408.4 211.5L419.3 206.3"/><path d="M269.5 184.3L341.1 57.6L312.2 43.6z" fill="url(#g181)" stroke="url(#g181)"/><path class="k" d="M279.7 166.3L275.1 165.7M291.9 144.7L281.9 143.6M304 123.2L288.5 121.7M316.1 101.9L295.1 100M328 80.7L301.5 78.6M339.9 59.7L308 57.4"/><path d="M298.9 186.4L369.5 134.8L341.1 57.6z" fill="url(#g182)" stroke="url(#g182)"/><path class="k" d="M321.3 170L303.9 171.1M354.3 145.9L311.4 148.2M365.4 123.5L318.8 125.6M357.5 102.2L326.1 103.3M349.7 80.9L333.3 81.4M341.9 59.7L340.4 59.7"/><path d="M269.5 184.3L298.9 186.4L341.1 57.6z" fill="url(#g183)" stroke="url(#g183)"/><path class="k" d="M303.9 171.1L279.7 166.3M311.4 148.2L291.9 144.7M318.8 125.6L304 123.2M326.1 103.3L316.1 101.9M333.3 81.4L328 80.7M340.4 59.7L339.9 59.7"/><path d="M329.1 219.5L398.8 190.2L369.5 134.8z" fill="url(#g184)" stroke="url(#g184)"/><path class="k" d="M398.4 189.5L340.9 194.8M386.7 167.2L352.7 170M375 145.2L364.2 145.9"/><path d="M298.9 186.4L329.1 219.5L369.5 134.8z" fill="url(#g185)" stroke="url(#g185)"/><path class="k" d="M306.7 194.9L340.9 194.8M352.7 170L321.3 170M364.2 145.9L354.3 145.9"/><path d="M360.9 226L428.3 255.8L398.8 190.2z" fill="url(#g186)" stroke="url(#g186)"/><path class="k" d="M362.1 226.5L408.4 211.5"/><path d="M329.1 219.5L360.9 226L398.8 190.2z" fill="url(#g187)" stroke="url(#g187)"/><path d="M360.9 226L392.8 276.6L428.3 255.8z" fill="url(#g188)" stroke="url(#g188)"/><path class="k" d="M361.4 226.9L362.1 226.5"/></g>
<path d="M117.5 212.2L111.6 24.3M117.5 212.2L624.6 330.8M624.6 330.8L683.5 258.4" fill="none" stroke="#000" stroke-width="3" stroke-linejoin="round"/>
<path d="M117.5 212.2l-9.5 1M116.5 181.9l-9.5 1M115.6 151.3l-9.5 1M114.6 120.2l-9.5 1M113.6 88.7l-9.5 1M112.6 56.7l-9.5 1M111.6 24.3l-9.5 1M140.5 217.6l-5.2 1.7M189.1 228.9l-5.2 1.8M241.5 241.2l-5.1 2M298.3 254.5l-5 2.3M359.9 268.9l-4.8 2.6M427.1 284.6l-4.6 3M500.5 301.8l-4.3 3.4M581.2 320.6l-3.8 4M624.6 330.8l12.7 3M636.4 316.3l6.8 1.5M647.2 303l12.7 2.7M657.3 290.6l6.9 1.4M666.7 279.1l12.7 2.5M675.4 268.4l6.9 1.3M683.5 258.4l12.8 2.4" fill="none" stroke="#000" stroke-width="2.2" stroke-linecap="butt"/>
<g font-family="'Liberation Serif',serif" fill="#0a0a0a" stroke="#0a0a0a" stroke-width="0.3"><text transform="translate(105,229.2) skewX(-7) scale(0.78,1)" text-anchor="end" font-size="30.5">0</text><text transform="translate(100,193.9) skewX(-7) scale(0.78,1)" text-anchor="end" font-size="30.5">10</text><text transform="translate(99.1,163.3) skewX(-7) scale(0.78,1)" text-anchor="end" font-size="30.5">20</text><text transform="translate(98.1,132.2) skewX(-7) scale(0.78,1)" text-anchor="end" font-size="30.5">30</text><text transform="translate(97.1,100.7) skewX(-7) scale(0.78,1)" text-anchor="end" font-size="30.5">40</text><text transform="translate(96.1,68.7) skewX(-7) scale(0.78,1)" text-anchor="end" font-size="30.5">50</text><text transform="translate(95.1,36.3) skewX(-7) scale(0.78,1)" text-anchor="end" font-size="30.5">60</text><text transform="translate(127.2,250.8) rotate(1.5) scale(0.94,1)" text-anchor="middle" font-size="33">2</text><text transform="translate(175.3,261.6) rotate(1.5) scale(0.94,1)" text-anchor="middle" font-size="33">4</text><text transform="translate(227,273.9) rotate(1.5) scale(0.94,1)" text-anchor="middle" font-size="33">6</text><text transform="translate(288,286.5) rotate(1.5) scale(0.94,1)" text-anchor="middle" font-size="33">8</text><text transform="translate(348.5,303.8) rotate(1.5) scale(0.94,1)" text-anchor="middle" font-size="33">10</text><text transform="translate(415.9,321.5) rotate(1.5) scale(0.94,1)" text-anchor="middle" font-size="33">12</text><text transform="translate(488.7,339.7) rotate(1.5) scale(0.94,1)" text-anchor="middle" font-size="33">14</text><text transform="translate(572.2,358.9) rotate(1.5) scale(0.94,1)" text-anchor="middle" font-size="33">16</text><text transform="translate(655.6,352.7) scale(0.93,1)" text-anchor="middle" font-size="32.5">1</text><text transform="translate(678.2,322.5) scale(0.93,1)" text-anchor="middle" font-size="32.5">2</text><text transform="translate(697.7,296.4) scale(0.93,1)" text-anchor="middle" font-size="32.5">3</text><text transform="translate(714.5,273.4) scale(0.93,1)" text-anchor="middle" font-size="32.5">4</text><text x="309.7" y="341" text-anchor="middle" font-size="36">Row</text><text transform="translate(41.5,115.5) rotate(-90) scale(0.8,1)" text-anchor="middle" font-size="44" stroke="#141414" stroke-width="0.6">Total number</text><text x="418.7" y="402.4" text-anchor="middle" font-size="43">(d)</text><text transform="matrix(0.1227,-0.2607,0.995,0.096,735.9,334.7)" font-weight="bold" font-size="47">Column</text></g>
<defs><linearGradient id="g189" x1="0" y1="0" x2="0" y2="1"><stop offset="0.000" stop-color="#6c0000"/><stop offset="0.018" stop-color="#700000"/><stop offset="0.089" stop-color="#ac0000"/><stop offset="0.154" stop-color="#e40000"/><stop offset="0.212" stop-color="#fc0000"/><stop offset="0.312" stop-color="#ff0000"/><stop offset="0.350" stop-color="#ff0c00"/><stop offset="0.402" stop-color="#ff6400"/><stop offset="0.453" stop-color="#ffbe00"/><stop offset="0.505" stop-color="#fafa00"/><stop offset="0.594" stop-color="#78f000"/><stop offset="0.667" stop-color="#08ec08"/><stop offset="0.702" stop-color="#00ee82"/><stop offset="0.731" stop-color="#00f5f5"/><stop offset="0.782" stop-color="#0091ff"/><stop offset="0.849" stop-color="#0000ff"/><stop offset="0.897" stop-color="#7800fa"/><stop offset="0.952" stop-color="#9200a5"/><stop offset="0.993" stop-color="#710077"/><stop offset="1.000" stop-color="#710077"/></linearGradient><linearGradient id="g189b" x1="0" y1="0" x2="1" y2="0"><stop offset="0" stop-color="#000" stop-opacity="0.45"/><stop offset="0.12" stop-color="#000" stop-opacity="0"/><stop offset="0.88" stop-color="#000" stop-opacity="0"/><stop offset="1" stop-color="#000" stop-opacity="0.45"/></linearGradient></defs>
<rect x="756.4" y="48.6" width="33.5" height="218.3" fill="url(#g189)"/>
<rect x="756.4" y="48.6" width="33.5" height="218.3" fill="url(#g189b)"/>
<rect x="757.9" y="49.2" width="30.5" height="2.6" fill="#e9a9a0"/>
<rect x="756.4" y="48.6" width="33.5" height="218.3" fill="none" stroke="#3a1a1a" stroke-opacity="0.6" stroke-width="1"/>
<path d="M789.9 51.4h11M789.9 94.2h11M789.9 137h11M789.9 179.8h11M789.9 222.6h11M789.9 265.4h11" stroke="#222" stroke-width="1.6" fill="none"/>
<g font-family="'Liberation Serif',serif" fill="#111" stroke="#111" stroke-width="0.35"><text transform="translate(811,58.1) scale(0.88,1)" font-size="20" font-weight="bold">59</text><text transform="translate(811,100.9) scale(0.88,1)" font-size="20" font-weight="bold">47</text><text transform="translate(811,143.7) scale(0.88,1)" font-size="20" font-weight="bold">35</text><text transform="translate(811,186.5) scale(0.88,1)" font-size="20" font-weight="bold">24</text><text transform="translate(811,229.3) scale(0.88,1)" font-size="20" font-weight="bold">12</text><text transform="translate(811,272.1) scale(0.88,1)" font-size="20" font-weight="bold">0.0</text></g>
</g>
</g></svg></body></html>
